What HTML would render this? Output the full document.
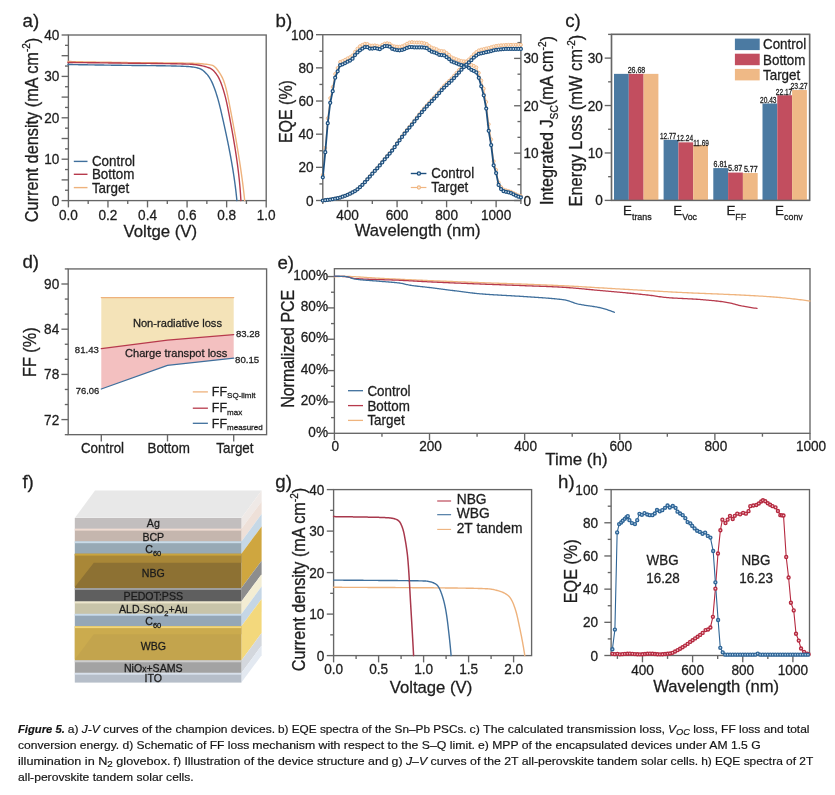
<!DOCTYPE html>
<html><head><meta charset="utf-8"><title>Figure 5</title>
<style>
html,body{margin:0;padding:0;background:#fff;}
body{width:835px;height:795px;overflow:hidden;}
svg{display:block;font-family:'Liberation Sans', Arial, sans-serif;filter:blur(0.4px);}
.pt text{stroke:#1e1e1e;stroke-width:0.28px;}
</style></head><body>
<svg width="835" height="795" viewBox="0 0 835 795">
<rect width="835" height="795" fill="#fff"/>
<g class="pt"><polygon points="74.8,518 241.4,518 261.6,490.6 95.0,490.6" fill="#e8e8e8"/>
<line x1="74.8" y1="518" x2="241.4" y2="518" stroke="#f4f4f4" stroke-width="0.8"/>
<polygon points="241.4,518.0 261.6,490.6 261.6,501.4 241.4,528.8" fill="#efe9e6"/>
<rect x="74.8" y="518.0" width="166.60000000000002" height="10.80" fill="#c2bebe"/>
<polygon points="241.4,528.8 261.6,501.4 261.6,514.0 241.4,541.4" fill="#eee0d8"/>
<rect x="74.8" y="528.8" width="166.60000000000002" height="12.60" fill="#c5b6ae"/>
<rect x="74.8" y="528.8" width="166.60000000000002" height="1.8" fill="#f0dcd2"/>
<polygon points="241.4,541.4 261.6,514.0 261.6,526.4 241.4,553.8" fill="#c6d8e6"/>
<rect x="74.8" y="541.4" width="166.60000000000002" height="12.40" fill="#97a9b5"/>
<rect x="74.8" y="541.4" width="166.60000000000002" height="1.8" fill="#c9dbe9"/>
<polygon points="241.4,553.8 261.6,526.4 261.6,560.7 241.4,588.1" fill="#cfa63f"/>
<rect x="74.8" y="553.8" width="166.60000000000002" height="34.30" fill="#8d7133"/>
<polygon points="74.8,553.8 241.4,553.8 241.4,562.8 93.8,562.8 74.8,587.1" fill="#a98737"/>
<rect x="74.8" y="553.8" width="166.60000000000002" height="1.8" fill="#c9a53f"/>
<polygon points="241.4,588.1 261.6,560.7 261.6,574.2 241.4,601.6" fill="#8d8d8d"/>
<rect x="74.8" y="588.1" width="166.60000000000002" height="13.50" fill="#5f5f5f"/>
<rect x="74.8" y="588.1" width="166.60000000000002" height="1.8" fill="#a3a3a3"/>
<polygon points="241.4,601.6 261.6,574.2 261.6,586.5 241.4,613.9" fill="#f3edd3"/>
<rect x="74.8" y="601.6" width="166.60000000000002" height="12.30" fill="#c8c4a9"/>
<rect x="74.8" y="601.6" width="166.60000000000002" height="1.8" fill="#ede7cd"/>
<polygon points="241.4,613.9 261.6,586.5 261.6,598.9 241.4,626.3" fill="#c5d6e5"/>
<rect x="74.8" y="613.9" width="166.60000000000002" height="12.40" fill="#95a7b7"/>
<rect x="74.8" y="613.9" width="166.60000000000002" height="1.8" fill="#c9dbea"/>
<polygon points="241.4,626.3 261.6,598.9 261.6,633.1 241.4,660.5" fill="#f3d87c"/>
<rect x="74.8" y="626.3" width="166.60000000000002" height="34.20" fill="#c3a44d"/>
<polygon points="74.8,626.3 241.4,626.3 241.4,634.3 93.8,634.3 74.8,659.5" fill="#cbab4e"/>
<rect x="74.8" y="626.3" width="166.60000000000002" height="1.8" fill="#f2d77c"/>
<polygon points="241.4,660.5 261.6,633.1 261.6,645.5 241.4,672.9" fill="#d3d7dd"/>
<rect x="74.8" y="660.5" width="166.60000000000002" height="12.40" fill="#a3a3a3"/>
<rect x="74.8" y="660.5" width="166.60000000000002" height="1.8" fill="#cdcdcd"/>
<polygon points="241.4,672.9 261.6,645.5 261.6,655.2 241.4,682.6" fill="#e3e9f1"/>
<rect x="74.8" y="672.9" width="166.60000000000002" height="9.70" fill="#b6bec9"/>
<rect x="74.8" y="672.9" width="166.60000000000002" height="1.8" fill="#d8e0eb"/>
<text x="153.3" y="527.4" font-size="10.6" text-anchor="middle" fill="#1a1a1a">Ag</text>
<text x="153.3" y="540.9" font-size="10.6" text-anchor="middle" fill="#1a1a1a">BCP</text>
<text x="153.3" y="552.7" font-size="10.6" text-anchor="middle" fill="#1a1a1a">C<tspan dy="3" font-size="7.5">60</tspan></text>
<text x="153.3" y="577.3" font-size="10.6" text-anchor="middle" fill="#1a1a1a">NBG</text>
<text x="153.3" y="600.3" font-size="10.6" text-anchor="middle" fill="#1a1a1a">PEDOT:PSS</text>
<text x="153.3" y="612.9" font-size="10.6" text-anchor="middle" fill="#1a1a1a">ALD-SnO<tspan dy="3" font-size="7.5">2</tspan><tspan dy="-3">+Au</tspan></text>
<text x="153.3" y="625.3" font-size="10.6" text-anchor="middle" fill="#1a1a1a">C<tspan dy="3" font-size="7.5">60</tspan></text>
<text x="153.3" y="649.5" font-size="10.6" text-anchor="middle" fill="#1a1a1a">WBG</text>
<text x="153.3" y="672.3" font-size="10.6" text-anchor="middle" fill="#1a1a1a">NiO<tspan font-size="8.5">x</tspan>+SAMS</text>
<text x="153.3" y="682.0" font-size="10.6" text-anchor="middle" fill="#1a1a1a">ITO</text></g>
<g class="pt"><text x="22.5" y="27.4" font-size="18.7" fill="#1e1e1e">a)</text>
<rect x="68.4" y="35" width="197.8" height="165.6" fill="none" stroke="#666666" stroke-width="1.35"/>
<line x1="68.4" y1="200.6" x2="61.6" y2="200.6" stroke="#666666" stroke-width="1.35"/>
<line x1="68.4" y1="179.9" x2="61.6" y2="179.9" stroke="#666666" stroke-width="1.35"/>
<line x1="68.4" y1="159.2" x2="61.6" y2="159.2" stroke="#666666" stroke-width="1.35"/>
<line x1="68.4" y1="138.5" x2="61.6" y2="138.5" stroke="#666666" stroke-width="1.35"/>
<line x1="68.4" y1="117.8" x2="61.6" y2="117.8" stroke="#666666" stroke-width="1.35"/>
<line x1="68.4" y1="97.1" x2="61.6" y2="97.1" stroke="#666666" stroke-width="1.35"/>
<line x1="68.4" y1="76.4" x2="61.6" y2="76.4" stroke="#666666" stroke-width="1.35"/>
<line x1="68.4" y1="55.7" x2="61.6" y2="55.7" stroke="#666666" stroke-width="1.35"/>
<line x1="68.4" y1="35" x2="61.6" y2="35" stroke="#666666" stroke-width="1.35"/>
<line x1="68.4" y1="190.25" x2="65" y2="190.25" stroke="#666666" stroke-width="1.35"/>
<line x1="68.4" y1="169.55" x2="65" y2="169.55" stroke="#666666" stroke-width="1.35"/>
<line x1="68.4" y1="148.85" x2="65" y2="148.85" stroke="#666666" stroke-width="1.35"/>
<line x1="68.4" y1="128.15" x2="65" y2="128.15" stroke="#666666" stroke-width="1.35"/>
<line x1="68.4" y1="107.45" x2="65" y2="107.45" stroke="#666666" stroke-width="1.35"/>
<line x1="68.4" y1="86.75" x2="65" y2="86.75" stroke="#666666" stroke-width="1.35"/>
<line x1="68.4" y1="66.05" x2="65" y2="66.05" stroke="#666666" stroke-width="1.35"/>
<line x1="68.4" y1="45.35" x2="65" y2="45.35" stroke="#666666" stroke-width="1.35"/>
<line x1="68.4" y1="200.6" x2="68.4" y2="207.4" stroke="#666666" stroke-width="1.35"/>
<line x1="107.96" y1="200.6" x2="107.96" y2="207.4" stroke="#666666" stroke-width="1.35"/>
<line x1="147.52" y1="200.6" x2="147.52" y2="207.4" stroke="#666666" stroke-width="1.35"/>
<line x1="187.08" y1="200.6" x2="187.08" y2="207.4" stroke="#666666" stroke-width="1.35"/>
<line x1="226.64" y1="200.6" x2="226.64" y2="207.4" stroke="#666666" stroke-width="1.35"/>
<line x1="266.2" y1="200.6" x2="266.2" y2="207.4" stroke="#666666" stroke-width="1.35"/>
<line x1="88.18" y1="200.6" x2="88.18" y2="204" stroke="#666666" stroke-width="1.35"/>
<line x1="127.74" y1="200.6" x2="127.74" y2="204" stroke="#666666" stroke-width="1.35"/>
<line x1="167.3" y1="200.6" x2="167.3" y2="204" stroke="#666666" stroke-width="1.35"/>
<line x1="206.86" y1="200.6" x2="206.86" y2="204" stroke="#666666" stroke-width="1.35"/>
<line x1="246.42" y1="200.6" x2="246.42" y2="204" stroke="#666666" stroke-width="1.35"/>
<text x="0" y="0" font-size="13.6" text-anchor="end" transform="translate(59.3 205.6) scale(1 1.06)" fill="#1e1e1e">0</text>
<text x="0" y="0" font-size="13.6" text-anchor="end" transform="translate(59.3 164.2) scale(1 1.06)" fill="#1e1e1e">10</text>
<text x="0" y="0" font-size="13.6" text-anchor="end" transform="translate(59.3 122.8) scale(1 1.06)" fill="#1e1e1e">20</text>
<text x="0" y="0" font-size="13.6" text-anchor="end" transform="translate(59.3 81.4) scale(1 1.06)" fill="#1e1e1e">30</text>
<text x="0" y="0" font-size="13.6" text-anchor="end" transform="translate(59.3 40) scale(1 1.06)" fill="#1e1e1e">40</text>
<text x="0" y="0" font-size="13.6" text-anchor="middle" transform="translate(68.4 220.3) scale(1 1.06)" fill="#1e1e1e">0.0</text>
<text x="0" y="0" font-size="13.6" text-anchor="middle" transform="translate(107.96 220.3) scale(1 1.06)" fill="#1e1e1e">0.2</text>
<text x="0" y="0" font-size="13.6" text-anchor="middle" transform="translate(147.52 220.3) scale(1 1.06)" fill="#1e1e1e">0.4</text>
<text x="0" y="0" font-size="13.6" text-anchor="middle" transform="translate(187.08 220.3) scale(1 1.06)" fill="#1e1e1e">0.6</text>
<text x="0" y="0" font-size="13.6" text-anchor="middle" transform="translate(226.64 220.3) scale(1 1.06)" fill="#1e1e1e">0.8</text>
<text x="0" y="0" font-size="13.6" text-anchor="middle" transform="translate(266.2 220.3) scale(1 1.06)" fill="#1e1e1e">1.0</text>
<text x="160.3" y="236.7" font-size="16.8" text-anchor="middle" fill="#1e1e1e">Voltge (V)</text>
<text x="0" y="0" font-size="16.3" text-anchor="middle" transform="translate(37.6 130) rotate(-90) scale(1 1.1)" fill="#1e1e1e">Current density (mA cm<tspan dy="-6.5" font-size="10">-2</tspan><tspan dy="6.5">)</tspan></text>
<polyline points="68,61.5 69.43,61.53 70.87,61.56 72.3,61.59 73.74,61.62 75.17,61.65 76.61,61.68 78.04,61.71 79.48,61.74 80.91,61.77 82.34,61.8 83.78,61.83 85.21,61.86 86.65,61.89 88.08,61.91 89.52,61.94 90.95,61.97 92.39,62 93.82,62.02 95.25,62.05 96.69,62.08 98.12,62.1 99.56,62.13 100.99,62.15 102.43,62.18 103.86,62.2 105.3,62.23 106.73,62.25 108.16,62.28 109.6,62.3 111.03,62.32 112.47,62.35 113.9,62.37 115.34,62.39 116.77,62.41 118.21,62.44 119.64,62.46 121.08,62.48 122.51,62.5 123.94,62.52 125.38,62.54 126.81,62.56 128.25,62.58 129.68,62.6 131.12,62.61 132.55,62.63 133.99,62.65 135.42,62.66 136.86,62.68 138.29,62.69 139.73,62.7 141.16,62.71 142.6,62.73 144.03,62.74 145.47,62.75 146.91,62.76 148.34,62.77 149.78,62.78 151.21,62.79 152.65,62.79 154.09,62.8 155.52,62.81 156.96,62.82 158.39,62.83 159.83,62.84 161.26,62.85 162.7,62.86 164.13,62.87 165.57,62.88 167,62.89 168.44,62.9 169.87,62.92 171.31,62.93 172.74,62.94 174.18,62.96 175.61,62.98 177.04,62.99 178.48,63.01 179.91,63.03 181.35,63.05 182.78,63.07 184.21,63.09 185.64,63.12 187.07,63.14 188.51,63.17 189.94,63.2 191.38,63.23 192.86,63.28 194.35,63.33 195.86,63.4 197.37,63.48 198.89,63.57 200.4,63.68 201.89,63.8 203.37,63.93 204.82,64.09 206.25,64.25 207.63,64.43 208.97,64.64 210.25,64.85 211.48,65.09 212.65,65.4 213.79,66.03 214.9,66.93 215.97,68.02 216.98,69.24 217.93,70.5 218.8,71.73 219.6,72.88 220.36,74.07 221.09,75.32 221.78,76.6 222.43,77.91 223.03,79.24 223.58,80.59 224.07,81.93 224.52,83.26 224.94,84.61 225.34,85.96 225.72,87.33 226.09,88.71 226.44,90.1 226.78,91.5 227.1,92.9 227.42,94.31 227.72,95.72 228.01,97.14 228.3,98.56 228.57,99.98 228.85,101.4 229.12,102.82 229.39,104.24 229.66,105.66 229.93,107.07 230.2,108.48 230.47,109.88 230.74,111.29 231.01,112.7 231.28,114.1 231.55,115.51 231.81,116.92 232.08,118.33 232.35,119.74 232.61,121.14 232.88,122.55 233.14,123.96 233.4,125.37 233.66,126.78 233.92,128.19 234.18,129.6 234.43,131.01 234.69,132.42 234.94,133.83 235.2,135.24 235.45,136.65 235.7,138.07 235.95,139.48 236.19,140.89 236.44,142.3 236.68,143.72 236.93,145.13 237.17,146.55 237.4,147.96 237.64,149.38 237.88,150.79 238.11,152.21 238.34,153.62 238.57,155.04 238.8,156.46 239.03,157.87 239.25,159.29 239.47,160.71 239.69,162.13 239.91,163.55 240.12,164.96 240.34,166.38 240.55,167.8 240.76,169.23 240.96,170.65 241.17,172.07 241.37,173.49 241.57,174.91 241.77,176.34 241.96,177.76 242.15,179.18 242.34,180.61 242.53,182.03 242.71,183.46 242.89,184.88 243.07,186.31 243.25,187.74 243.42,189.16 243.59,190.59 243.76,192.02 243.92,193.45 244.08,194.88 244.24,196.31 244.4,197.74 244.55,199.17 244.7,200.6" fill="none" stroke="#eeb27c" stroke-width="1.4" stroke-linejoin="round" stroke-linecap="round"/>
<polyline points="68,62.5 69.41,62.51 70.82,62.52 72.23,62.54 73.64,62.55 75.05,62.56 76.46,62.58 77.87,62.59 79.28,62.6 80.69,62.62 82.1,62.63 83.51,62.64 84.92,62.66 86.33,62.67 87.74,62.69 89.15,62.7 90.55,62.72 91.96,62.73 93.37,62.75 94.78,62.76 96.19,62.78 97.6,62.8 99.01,62.81 100.42,62.83 101.83,62.84 103.24,62.86 104.65,62.88 106.06,62.89 107.47,62.91 108.88,62.93 110.29,62.95 111.7,62.96 113.11,62.98 114.52,63 115.93,63.02 117.34,63.03 118.75,63.05 120.16,63.07 121.57,63.09 122.98,63.11 124.39,63.13 125.8,63.14 127.2,63.16 128.61,63.18 130.02,63.2 131.43,63.22 132.84,63.24 134.26,63.25 135.67,63.27 137.08,63.29 138.49,63.3 139.91,63.32 141.32,63.33 142.73,63.35 144.15,63.36 145.56,63.38 146.98,63.39 148.39,63.4 149.81,63.42 151.22,63.43 152.64,63.45 154.05,63.46 155.47,63.48 156.88,63.49 158.29,63.51 159.71,63.53 161.12,63.55 162.53,63.57 163.95,63.59 165.36,63.61 166.77,63.63 168.18,63.65 169.59,63.67 171,63.7 172.41,63.73 173.82,63.75 175.22,63.78 176.63,63.81 178.04,63.85 179.44,63.88 180.84,63.92 182.24,63.95 183.64,63.99 185.04,64.04 186.44,64.08 187.84,64.12 189.23,64.17 190.63,64.23 192.05,64.31 193.49,64.43 194.94,64.59 196.4,64.77 197.86,64.99 199.32,65.24 200.76,65.52 202.19,65.83 203.59,66.16 204.96,66.52 206.29,66.9 207.57,67.31 208.8,67.74 209.98,68.19 211.12,68.77 212.24,69.56 213.32,70.52 214.36,71.6 215.34,72.75 216.24,73.93 217.06,75.09 217.79,76.22 218.48,77.42 219.12,78.67 219.74,79.95 220.31,81.27 220.86,82.61 221.37,83.95 221.85,85.29 222.31,86.61 222.75,87.94 223.17,89.27 223.58,90.62 223.98,91.97 224.37,93.33 224.74,94.69 225.11,96.06 225.46,97.43 225.8,98.81 226.13,100.19 226.45,101.57 226.75,102.95 227.05,104.33 227.34,105.71 227.62,107.09 227.89,108.47 228.16,109.85 228.43,111.23 228.69,112.61 228.96,113.98 229.22,115.36 229.49,116.74 229.75,118.12 230.01,119.5 230.27,120.88 230.53,122.27 230.79,123.65 231.04,125.03 231.3,126.41 231.55,127.8 231.8,129.18 232.06,130.56 232.3,131.95 232.55,133.33 232.8,134.72 233.04,136.11 233.28,137.49 233.52,138.88 233.76,140.27 233.99,141.66 234.22,143.05 234.45,144.44 234.68,145.83 234.91,147.22 235.13,148.61 235.35,150 235.57,151.39 235.78,152.79 235.99,154.18 236.2,155.58 236.41,156.97 236.61,158.37 236.81,159.76 237.01,161.16 237.2,162.56 237.39,163.96 237.58,165.36 237.76,166.76 237.94,168.16 238.11,169.56 238.29,170.96 238.45,172.37 238.62,173.77 238.78,175.18 238.93,176.58 239.09,177.99 239.23,179.39 239.38,180.8 239.52,182.21 239.65,183.62 239.78,185.03 239.91,186.44 240.03,187.85 240.14,189.27 240.26,190.68 240.36,192.09 240.47,193.51 240.56,194.93 240.65,196.34 240.74,197.76 240.82,199.18 240.9,200.6" fill="none" stroke="#b73a4c" stroke-width="1.4" stroke-linejoin="round" stroke-linecap="round"/>
<polyline points="68,64.5 69.37,64.52 70.73,64.55 72.1,64.57 73.46,64.59 74.83,64.62 76.19,64.64 77.56,64.66 78.92,64.68 80.29,64.71 81.65,64.73 83.02,64.75 84.38,64.77 85.75,64.79 87.11,64.82 88.48,64.84 89.85,64.86 91.21,64.88 92.58,64.9 93.94,64.92 95.31,64.94 96.67,64.96 98.04,64.99 99.4,65.01 100.77,65.03 102.13,65.05 103.5,65.07 104.86,65.09 106.23,65.11 107.59,65.13 108.96,65.15 110.33,65.17 111.69,65.19 113.06,65.2 114.42,65.22 115.79,65.24 117.15,65.26 118.52,65.28 119.88,65.3 121.25,65.32 122.61,65.33 123.98,65.35 125.34,65.37 126.71,65.38 128.08,65.4 129.44,65.41 130.81,65.42 132.17,65.44 133.54,65.45 134.9,65.46 136.27,65.48 137.63,65.49 139,65.5 140.37,65.52 141.73,65.53 143.1,65.54 144.46,65.55 145.83,65.57 147.19,65.58 148.56,65.59 149.92,65.61 151.29,65.62 152.66,65.64 154.02,65.65 155.39,65.67 156.75,65.69 158.12,65.71 159.48,65.72 160.85,65.74 162.21,65.76 163.58,65.78 164.94,65.81 166.31,65.83 167.67,65.86 169.04,65.88 170.4,65.91 171.77,65.94 173.14,65.97 174.5,66 175.87,66.04 177.24,66.08 178.61,66.12 179.98,66.17 181.35,66.22 182.71,66.28 184.08,66.34 185.44,66.41 186.8,66.49 188.16,66.57 189.51,66.67 190.87,66.77 192.25,66.93 193.64,67.13 195.02,67.38 196.38,67.67 197.71,68 198.99,68.37 200.2,68.77 201.37,69.33 202.52,70.06 203.63,70.93 204.69,71.89 205.7,72.9 206.64,73.91 207.52,74.91 208.35,75.98 209.14,77.12 209.88,78.29 210.56,79.49 211.2,80.69 211.8,81.9 212.38,83.14 212.92,84.39 213.45,85.66 213.95,86.94 214.43,88.23 214.89,89.52 215.34,90.8 215.77,92.09 216.2,93.39 216.61,94.69 217.02,95.99 217.41,97.3 217.8,98.61 218.18,99.93 218.54,101.25 218.9,102.57 219.25,103.9 219.59,105.22 219.91,106.55 220.23,107.87 220.55,109.2 220.85,110.52 221.16,111.85 221.46,113.17 221.77,114.5 222.07,115.83 222.38,117.15 222.68,118.48 222.98,119.81 223.28,121.14 223.58,122.47 223.87,123.8 224.17,125.13 224.46,126.46 224.76,127.79 225.05,129.12 225.34,130.45 225.63,131.78 225.91,133.12 226.2,134.45 226.48,135.78 226.76,137.12 227.04,138.45 227.32,139.79 227.6,141.13 227.87,142.46 228.14,143.8 228.41,145.14 228.68,146.48 228.94,147.82 229.2,149.15 229.46,150.5 229.72,151.84 229.98,153.18 230.23,154.52 230.48,155.86 230.73,157.21 230.97,158.55 231.21,159.9 231.45,161.24 231.69,162.59 231.92,163.93 232.15,165.28 232.38,166.63 232.6,167.98 232.83,169.33 233.04,170.68 233.26,172.03 233.47,173.38 233.68,174.74 233.88,176.09 234.08,177.44 234.28,178.8 234.47,180.16 234.66,181.51 234.85,182.87 235.03,184.23 235.21,185.59 235.38,186.95 235.55,188.31 235.72,189.67 235.88,191.03 236.04,192.4 236.19,193.76 236.34,195.13 236.49,196.5 236.63,197.86 236.77,199.23 236.9,200.6" fill="none" stroke="#3f6f9c" stroke-width="1.4" stroke-linejoin="round" stroke-linecap="round"/>
<line x1="73.8" y1="161.4" x2="87.5" y2="161.4" stroke="#3f6f9c" stroke-width="1.4"/>
<text x="0" y="0" font-size="13.4" transform="translate(91.9 166.3) scale(1 1.06)" fill="#1e1e1e">Control</text>
<line x1="73.8" y1="174.3" x2="87.5" y2="174.3" stroke="#b73a4c" stroke-width="1.4"/>
<text x="0" y="0" font-size="13.4" transform="translate(91.9 179.2) scale(1 1.06)" fill="#1e1e1e">Bottom</text>
<line x1="73.8" y1="187.6" x2="87.5" y2="187.6" stroke="#eeb27c" stroke-width="1.4"/>
<text x="0" y="0" font-size="13.4" transform="translate(91.9 192.5) scale(1 1.06)" fill="#1e1e1e">Target</text>
<text x="275.5" y="27" font-size="18.7" fill="#1e1e1e">b)</text>
<rect x="322.8" y="34.7" width="198.08" height="165.8" fill="none" stroke="#666666" stroke-width="1.35"/>
<line x1="322.8" y1="200.5" x2="316" y2="200.5" stroke="#666666" stroke-width="1.35"/>
<line x1="322.8" y1="167.34" x2="316" y2="167.34" stroke="#666666" stroke-width="1.35"/>
<line x1="322.8" y1="134.18" x2="316" y2="134.18" stroke="#666666" stroke-width="1.35"/>
<line x1="322.8" y1="101.02" x2="316" y2="101.02" stroke="#666666" stroke-width="1.35"/>
<line x1="322.8" y1="67.86" x2="316" y2="67.86" stroke="#666666" stroke-width="1.35"/>
<line x1="322.8" y1="34.7" x2="316" y2="34.7" stroke="#666666" stroke-width="1.35"/>
<line x1="322.8" y1="183.92" x2="319.4" y2="183.92" stroke="#666666" stroke-width="1.35"/>
<line x1="322.8" y1="150.76" x2="319.4" y2="150.76" stroke="#666666" stroke-width="1.35"/>
<line x1="322.8" y1="117.6" x2="319.4" y2="117.6" stroke="#666666" stroke-width="1.35"/>
<line x1="322.8" y1="84.44" x2="319.4" y2="84.44" stroke="#666666" stroke-width="1.35"/>
<line x1="322.8" y1="51.28" x2="319.4" y2="51.28" stroke="#666666" stroke-width="1.35"/>
<line x1="347.56" y1="200.5" x2="347.56" y2="207.3" stroke="#666666" stroke-width="1.35"/>
<line x1="397.08" y1="200.5" x2="397.08" y2="207.3" stroke="#666666" stroke-width="1.35"/>
<line x1="446.6" y1="200.5" x2="446.6" y2="207.3" stroke="#666666" stroke-width="1.35"/>
<line x1="496.12" y1="200.5" x2="496.12" y2="207.3" stroke="#666666" stroke-width="1.35"/>
<line x1="322.8" y1="200.5" x2="322.8" y2="203.9" stroke="#666666" stroke-width="1.35"/>
<line x1="372.32" y1="200.5" x2="372.32" y2="203.9" stroke="#666666" stroke-width="1.35"/>
<line x1="421.84" y1="200.5" x2="421.84" y2="203.9" stroke="#666666" stroke-width="1.35"/>
<line x1="471.36" y1="200.5" x2="471.36" y2="203.9" stroke="#666666" stroke-width="1.35"/>
<line x1="520.88" y1="200.5" x2="520.88" y2="203.9" stroke="#666666" stroke-width="1.35"/>
<line x1="520.88" y1="200.5" x2="514.08" y2="200.5" stroke="#666666" stroke-width="1.35"/>
<line x1="520.88" y1="153.13" x2="514.08" y2="153.13" stroke="#666666" stroke-width="1.35"/>
<line x1="520.88" y1="105.76" x2="514.08" y2="105.76" stroke="#666666" stroke-width="1.35"/>
<line x1="520.88" y1="58.39" x2="514.08" y2="58.39" stroke="#666666" stroke-width="1.35"/>
<line x1="520.88" y1="184.71" x2="517.48" y2="184.71" stroke="#666666" stroke-width="1.35"/>
<line x1="520.88" y1="168.92" x2="517.48" y2="168.92" stroke="#666666" stroke-width="1.35"/>
<line x1="520.88" y1="137.34" x2="517.48" y2="137.34" stroke="#666666" stroke-width="1.35"/>
<line x1="520.88" y1="121.55" x2="517.48" y2="121.55" stroke="#666666" stroke-width="1.35"/>
<line x1="520.88" y1="89.97" x2="517.48" y2="89.97" stroke="#666666" stroke-width="1.35"/>
<line x1="520.88" y1="74.18" x2="517.48" y2="74.18" stroke="#666666" stroke-width="1.35"/>
<line x1="520.88" y1="42.6" x2="517.48" y2="42.6" stroke="#666666" stroke-width="1.35"/>
<text x="0" y="0" font-size="13.6" text-anchor="end" transform="translate(313.6 205.5) scale(1 1.06)" fill="#1e1e1e">0</text>
<text x="0" y="0" font-size="13.6" text-anchor="end" transform="translate(313.6 172.34) scale(1 1.06)" fill="#1e1e1e">20</text>
<text x="0" y="0" font-size="13.6" text-anchor="end" transform="translate(313.6 139.18) scale(1 1.06)" fill="#1e1e1e">40</text>
<text x="0" y="0" font-size="13.6" text-anchor="end" transform="translate(313.6 106.02) scale(1 1.06)" fill="#1e1e1e">60</text>
<text x="0" y="0" font-size="13.6" text-anchor="end" transform="translate(313.6 72.86) scale(1 1.06)" fill="#1e1e1e">80</text>
<text x="0" y="0" font-size="13.6" text-anchor="end" transform="translate(313.6 39.7) scale(1 1.06)" fill="#1e1e1e">100</text>
<text x="0" y="0" font-size="13.6" transform="translate(523.5 205.5) scale(1 1.06)" fill="#1e1e1e">0</text>
<text x="0" y="0" font-size="13.6" transform="translate(523.5 158.13) scale(1 1.06)" fill="#1e1e1e">10</text>
<text x="0" y="0" font-size="13.6" transform="translate(523.5 110.76) scale(1 1.06)" fill="#1e1e1e">20</text>
<text x="0" y="0" font-size="13.6" transform="translate(523.5 63.39) scale(1 1.06)" fill="#1e1e1e">30</text>
<text x="0" y="0" font-size="13.6" text-anchor="middle" transform="translate(347.56 220.4) scale(1 1.06)" fill="#1e1e1e">400</text>
<text x="0" y="0" font-size="13.6" text-anchor="middle" transform="translate(397.08 220.4) scale(1 1.06)" fill="#1e1e1e">600</text>
<text x="0" y="0" font-size="13.6" text-anchor="middle" transform="translate(446.6 220.4) scale(1 1.06)" fill="#1e1e1e">800</text>
<text x="0" y="0" font-size="13.6" text-anchor="middle" transform="translate(496.12 220.4) scale(1 1.06)" fill="#1e1e1e">1000</text>
<text x="417.7" y="235.8" font-size="16.6" text-anchor="middle" fill="#1e1e1e">Wavelength (nm)</text>
<text x="0" y="0" font-size="16" text-anchor="middle" transform="translate(292.3 111.6) rotate(-90) scale(1 1.1)" fill="#1e1e1e">EQE (%)</text>
<text x="0" y="0" font-size="16.2" text-anchor="middle" transform="translate(553.3 120.5) rotate(-90) scale(1 1.1)" fill="#1e1e1e">Integrated J<tspan dy="4.3" font-size="10.2">SC</tspan><tspan dy="-4.3">(mA cm</tspan><tspan dy="-6.5" font-size="10">-2</tspan><tspan dy="6.5">)</tspan></text>
<polyline points="322.8,174.8 325.28,147.99 327.75,118.27 330.23,98.11 332.7,86.98 335.18,74.03 337.66,67.99 340.13,61.91 342.61,61.02 345.08,59.78 347.56,58.38 350.04,57.24 352.51,55.42 354.99,51.7 357.46,48.65 359.94,46.2 362.42,44.84 364.89,43.78 367.37,43.98 369.84,45.48 372.32,45.6 374.8,45.37 377.27,45.83 379.75,46.66 382.22,44.89 384.7,43.64 387.18,43.2 389.65,43.72 392.13,45.66 394.6,46.4 397.08,46.69 399.56,46.78 402.03,46.29 404.51,45.23 406.98,43.74 409.46,42.52 411.94,42.08 414.41,42.49 416.89,42.49 419.36,42.49 421.84,42.71 424.32,43.17 426.79,44.02 429.27,45.93 431.74,47.56 434.22,48.33 436.7,49.22 439.17,50.63 441.65,50.95 444.12,51.27 446.6,53 449.08,54.9 451.55,57.25 454.03,58.33 456.5,59.21 458.98,60.26 461.46,60.91 463.93,61.27 466.41,61.25 468.88,62.88 471.36,64.87 473.84,65.93 476.31,67.4 478.79,72.83 481.26,80.47 483.74,88.65 486.22,101.95 488.69,124.23 491.17,139.41 493.64,161.18 496.12,169.83 498.6,182.43 501.07,187.06 503.55,189.55 506.02,190.37 508.5,191.01 510.98,191.74 513.45,193 515.93,194.28 518.4,195.4 520.88,196.02" fill="none" stroke="#f0b682" stroke-width="0.9" stroke-linejoin="round" stroke-linecap="round"/>
<polyline points="322.8,200.5 325.28,200.23 327.75,199.91 330.23,199.55 332.7,199.16 335.18,198.71 337.66,198.18 340.13,197.52 342.61,196.71 345.08,195.79 347.56,194.78 350.04,193.67 352.51,192.41 354.99,190.95 357.46,189.21 359.94,187.09 362.42,184.71 364.89,181.97 367.37,179.07 369.84,176.26 372.32,173.47 374.8,170.68 377.27,167.93 379.75,165.08 382.22,161.98 384.7,158.85 387.18,155.95 389.65,153.12 392.13,150.06 394.6,146.64 397.08,143.11 399.56,139.68 402.03,136.27 404.51,132.96 406.98,129.81 409.46,126.74 411.94,123.67 414.41,120.52 416.89,117.35 419.36,114.22 421.84,111.16 424.32,108.15 426.79,105.25 429.27,102.51 431.74,99.86 434.22,97.2 436.7,94.43 439.17,91.48 441.65,88.5 444.12,85.69 446.6,83.21 449.08,80.9 451.55,78.47 454.03,75.73 456.5,72.85 458.98,69.97 461.46,67.05 463.93,64.29 466.41,61.77 468.88,59.41 471.36,57 473.84,54.24 476.31,52.06 478.79,50.4 481.26,49.61 483.74,49.06 486.22,48.48 488.69,47.91 491.17,47.19 493.64,46.48 496.12,45.93 498.6,45.56 501.07,45.27 503.55,45.09 506.02,44.95 508.5,44.87 510.98,44.85 513.45,44.84 515.93,44.83 518.4,44.83 520.88,44.82" fill="none" stroke="#f0b682" stroke-width="0.9" stroke-linejoin="round" stroke-linecap="round"/>
<circle cx="322.8" cy="174.8" r="1.5" fill="#fcebd9" stroke="#f0b682" stroke-width="0.9"/>
<circle cx="325.28" cy="147.99" r="1.5" fill="#fcebd9" stroke="#f0b682" stroke-width="0.9"/>
<circle cx="327.75" cy="118.27" r="1.5" fill="#fcebd9" stroke="#f0b682" stroke-width="0.9"/>
<circle cx="330.23" cy="98.11" r="1.5" fill="#fcebd9" stroke="#f0b682" stroke-width="0.9"/>
<circle cx="332.7" cy="86.98" r="1.5" fill="#fcebd9" stroke="#f0b682" stroke-width="0.9"/>
<circle cx="335.18" cy="74.03" r="1.5" fill="#fcebd9" stroke="#f0b682" stroke-width="0.9"/>
<circle cx="337.66" cy="67.99" r="1.5" fill="#fcebd9" stroke="#f0b682" stroke-width="0.9"/>
<circle cx="340.13" cy="61.91" r="1.5" fill="#fcebd9" stroke="#f0b682" stroke-width="0.9"/>
<circle cx="342.61" cy="61.02" r="1.5" fill="#fcebd9" stroke="#f0b682" stroke-width="0.9"/>
<circle cx="345.08" cy="59.78" r="1.5" fill="#fcebd9" stroke="#f0b682" stroke-width="0.9"/>
<circle cx="347.56" cy="58.38" r="1.5" fill="#fcebd9" stroke="#f0b682" stroke-width="0.9"/>
<circle cx="350.04" cy="57.24" r="1.5" fill="#fcebd9" stroke="#f0b682" stroke-width="0.9"/>
<circle cx="352.51" cy="55.42" r="1.5" fill="#fcebd9" stroke="#f0b682" stroke-width="0.9"/>
<circle cx="354.99" cy="51.7" r="1.5" fill="#fcebd9" stroke="#f0b682" stroke-width="0.9"/>
<circle cx="357.46" cy="48.65" r="1.5" fill="#fcebd9" stroke="#f0b682" stroke-width="0.9"/>
<circle cx="359.94" cy="46.2" r="1.5" fill="#fcebd9" stroke="#f0b682" stroke-width="0.9"/>
<circle cx="362.42" cy="44.84" r="1.5" fill="#fcebd9" stroke="#f0b682" stroke-width="0.9"/>
<circle cx="364.89" cy="43.78" r="1.5" fill="#fcebd9" stroke="#f0b682" stroke-width="0.9"/>
<circle cx="367.37" cy="43.98" r="1.5" fill="#fcebd9" stroke="#f0b682" stroke-width="0.9"/>
<circle cx="369.84" cy="45.48" r="1.5" fill="#fcebd9" stroke="#f0b682" stroke-width="0.9"/>
<circle cx="372.32" cy="45.6" r="1.5" fill="#fcebd9" stroke="#f0b682" stroke-width="0.9"/>
<circle cx="374.8" cy="45.37" r="1.5" fill="#fcebd9" stroke="#f0b682" stroke-width="0.9"/>
<circle cx="377.27" cy="45.83" r="1.5" fill="#fcebd9" stroke="#f0b682" stroke-width="0.9"/>
<circle cx="379.75" cy="46.66" r="1.5" fill="#fcebd9" stroke="#f0b682" stroke-width="0.9"/>
<circle cx="382.22" cy="44.89" r="1.5" fill="#fcebd9" stroke="#f0b682" stroke-width="0.9"/>
<circle cx="384.7" cy="43.64" r="1.5" fill="#fcebd9" stroke="#f0b682" stroke-width="0.9"/>
<circle cx="387.18" cy="43.2" r="1.5" fill="#fcebd9" stroke="#f0b682" stroke-width="0.9"/>
<circle cx="389.65" cy="43.72" r="1.5" fill="#fcebd9" stroke="#f0b682" stroke-width="0.9"/>
<circle cx="392.13" cy="45.66" r="1.5" fill="#fcebd9" stroke="#f0b682" stroke-width="0.9"/>
<circle cx="394.6" cy="46.4" r="1.5" fill="#fcebd9" stroke="#f0b682" stroke-width="0.9"/>
<circle cx="397.08" cy="46.69" r="1.5" fill="#fcebd9" stroke="#f0b682" stroke-width="0.9"/>
<circle cx="399.56" cy="46.78" r="1.5" fill="#fcebd9" stroke="#f0b682" stroke-width="0.9"/>
<circle cx="402.03" cy="46.29" r="1.5" fill="#fcebd9" stroke="#f0b682" stroke-width="0.9"/>
<circle cx="404.51" cy="45.23" r="1.5" fill="#fcebd9" stroke="#f0b682" stroke-width="0.9"/>
<circle cx="406.98" cy="43.74" r="1.5" fill="#fcebd9" stroke="#f0b682" stroke-width="0.9"/>
<circle cx="409.46" cy="42.52" r="1.5" fill="#fcebd9" stroke="#f0b682" stroke-width="0.9"/>
<circle cx="411.94" cy="42.08" r="1.5" fill="#fcebd9" stroke="#f0b682" stroke-width="0.9"/>
<circle cx="414.41" cy="42.49" r="1.5" fill="#fcebd9" stroke="#f0b682" stroke-width="0.9"/>
<circle cx="416.89" cy="42.49" r="1.5" fill="#fcebd9" stroke="#f0b682" stroke-width="0.9"/>
<circle cx="419.36" cy="42.49" r="1.5" fill="#fcebd9" stroke="#f0b682" stroke-width="0.9"/>
<circle cx="421.84" cy="42.71" r="1.5" fill="#fcebd9" stroke="#f0b682" stroke-width="0.9"/>
<circle cx="424.32" cy="43.17" r="1.5" fill="#fcebd9" stroke="#f0b682" stroke-width="0.9"/>
<circle cx="426.79" cy="44.02" r="1.5" fill="#fcebd9" stroke="#f0b682" stroke-width="0.9"/>
<circle cx="429.27" cy="45.93" r="1.5" fill="#fcebd9" stroke="#f0b682" stroke-width="0.9"/>
<circle cx="431.74" cy="47.56" r="1.5" fill="#fcebd9" stroke="#f0b682" stroke-width="0.9"/>
<circle cx="434.22" cy="48.33" r="1.5" fill="#fcebd9" stroke="#f0b682" stroke-width="0.9"/>
<circle cx="436.7" cy="49.22" r="1.5" fill="#fcebd9" stroke="#f0b682" stroke-width="0.9"/>
<circle cx="439.17" cy="50.63" r="1.5" fill="#fcebd9" stroke="#f0b682" stroke-width="0.9"/>
<circle cx="441.65" cy="50.95" r="1.5" fill="#fcebd9" stroke="#f0b682" stroke-width="0.9"/>
<circle cx="444.12" cy="51.27" r="1.5" fill="#fcebd9" stroke="#f0b682" stroke-width="0.9"/>
<circle cx="446.6" cy="53" r="1.5" fill="#fcebd9" stroke="#f0b682" stroke-width="0.9"/>
<circle cx="449.08" cy="54.9" r="1.5" fill="#fcebd9" stroke="#f0b682" stroke-width="0.9"/>
<circle cx="451.55" cy="57.25" r="1.5" fill="#fcebd9" stroke="#f0b682" stroke-width="0.9"/>
<circle cx="454.03" cy="58.33" r="1.5" fill="#fcebd9" stroke="#f0b682" stroke-width="0.9"/>
<circle cx="456.5" cy="59.21" r="1.5" fill="#fcebd9" stroke="#f0b682" stroke-width="0.9"/>
<circle cx="458.98" cy="60.26" r="1.5" fill="#fcebd9" stroke="#f0b682" stroke-width="0.9"/>
<circle cx="461.46" cy="60.91" r="1.5" fill="#fcebd9" stroke="#f0b682" stroke-width="0.9"/>
<circle cx="463.93" cy="61.27" r="1.5" fill="#fcebd9" stroke="#f0b682" stroke-width="0.9"/>
<circle cx="466.41" cy="61.25" r="1.5" fill="#fcebd9" stroke="#f0b682" stroke-width="0.9"/>
<circle cx="468.88" cy="62.88" r="1.5" fill="#fcebd9" stroke="#f0b682" stroke-width="0.9"/>
<circle cx="471.36" cy="64.87" r="1.5" fill="#fcebd9" stroke="#f0b682" stroke-width="0.9"/>
<circle cx="473.84" cy="65.93" r="1.5" fill="#fcebd9" stroke="#f0b682" stroke-width="0.9"/>
<circle cx="476.31" cy="67.4" r="1.5" fill="#fcebd9" stroke="#f0b682" stroke-width="0.9"/>
<circle cx="478.79" cy="72.83" r="1.5" fill="#fcebd9" stroke="#f0b682" stroke-width="0.9"/>
<circle cx="481.26" cy="80.47" r="1.5" fill="#fcebd9" stroke="#f0b682" stroke-width="0.9"/>
<circle cx="483.74" cy="88.65" r="1.5" fill="#fcebd9" stroke="#f0b682" stroke-width="0.9"/>
<circle cx="486.22" cy="101.95" r="1.5" fill="#fcebd9" stroke="#f0b682" stroke-width="0.9"/>
<circle cx="488.69" cy="124.23" r="1.5" fill="#fcebd9" stroke="#f0b682" stroke-width="0.9"/>
<circle cx="491.17" cy="139.41" r="1.5" fill="#fcebd9" stroke="#f0b682" stroke-width="0.9"/>
<circle cx="493.64" cy="161.18" r="1.5" fill="#fcebd9" stroke="#f0b682" stroke-width="0.9"/>
<circle cx="496.12" cy="169.83" r="1.5" fill="#fcebd9" stroke="#f0b682" stroke-width="0.9"/>
<circle cx="498.6" cy="182.43" r="1.5" fill="#fcebd9" stroke="#f0b682" stroke-width="0.9"/>
<circle cx="501.07" cy="187.06" r="1.5" fill="#fcebd9" stroke="#f0b682" stroke-width="0.9"/>
<circle cx="503.55" cy="189.55" r="1.5" fill="#fcebd9" stroke="#f0b682" stroke-width="0.9"/>
<circle cx="506.02" cy="190.37" r="1.5" fill="#fcebd9" stroke="#f0b682" stroke-width="0.9"/>
<circle cx="508.5" cy="191.01" r="1.5" fill="#fcebd9" stroke="#f0b682" stroke-width="0.9"/>
<circle cx="510.98" cy="191.74" r="1.5" fill="#fcebd9" stroke="#f0b682" stroke-width="0.9"/>
<circle cx="513.45" cy="193" r="1.5" fill="#fcebd9" stroke="#f0b682" stroke-width="0.9"/>
<circle cx="515.93" cy="194.28" r="1.5" fill="#fcebd9" stroke="#f0b682" stroke-width="0.9"/>
<circle cx="518.4" cy="195.4" r="1.5" fill="#fcebd9" stroke="#f0b682" stroke-width="0.9"/>
<circle cx="520.88" cy="196.02" r="1.5" fill="#fcebd9" stroke="#f0b682" stroke-width="0.9"/>
<circle cx="322.8" cy="200.5" r="1.5" fill="#fcebd9" stroke="#f0b682" stroke-width="0.9"/>
<circle cx="325.28" cy="200.23" r="1.5" fill="#fcebd9" stroke="#f0b682" stroke-width="0.9"/>
<circle cx="327.75" cy="199.91" r="1.5" fill="#fcebd9" stroke="#f0b682" stroke-width="0.9"/>
<circle cx="330.23" cy="199.55" r="1.5" fill="#fcebd9" stroke="#f0b682" stroke-width="0.9"/>
<circle cx="332.7" cy="199.16" r="1.5" fill="#fcebd9" stroke="#f0b682" stroke-width="0.9"/>
<circle cx="335.18" cy="198.71" r="1.5" fill="#fcebd9" stroke="#f0b682" stroke-width="0.9"/>
<circle cx="337.66" cy="198.18" r="1.5" fill="#fcebd9" stroke="#f0b682" stroke-width="0.9"/>
<circle cx="340.13" cy="197.52" r="1.5" fill="#fcebd9" stroke="#f0b682" stroke-width="0.9"/>
<circle cx="342.61" cy="196.71" r="1.5" fill="#fcebd9" stroke="#f0b682" stroke-width="0.9"/>
<circle cx="345.08" cy="195.79" r="1.5" fill="#fcebd9" stroke="#f0b682" stroke-width="0.9"/>
<circle cx="347.56" cy="194.78" r="1.5" fill="#fcebd9" stroke="#f0b682" stroke-width="0.9"/>
<circle cx="350.04" cy="193.67" r="1.5" fill="#fcebd9" stroke="#f0b682" stroke-width="0.9"/>
<circle cx="352.51" cy="192.41" r="1.5" fill="#fcebd9" stroke="#f0b682" stroke-width="0.9"/>
<circle cx="354.99" cy="190.95" r="1.5" fill="#fcebd9" stroke="#f0b682" stroke-width="0.9"/>
<circle cx="357.46" cy="189.21" r="1.5" fill="#fcebd9" stroke="#f0b682" stroke-width="0.9"/>
<circle cx="359.94" cy="187.09" r="1.5" fill="#fcebd9" stroke="#f0b682" stroke-width="0.9"/>
<circle cx="362.42" cy="184.71" r="1.5" fill="#fcebd9" stroke="#f0b682" stroke-width="0.9"/>
<circle cx="364.89" cy="181.97" r="1.5" fill="#fcebd9" stroke="#f0b682" stroke-width="0.9"/>
<circle cx="367.37" cy="179.07" r="1.5" fill="#fcebd9" stroke="#f0b682" stroke-width="0.9"/>
<circle cx="369.84" cy="176.26" r="1.5" fill="#fcebd9" stroke="#f0b682" stroke-width="0.9"/>
<circle cx="372.32" cy="173.47" r="1.5" fill="#fcebd9" stroke="#f0b682" stroke-width="0.9"/>
<circle cx="374.8" cy="170.68" r="1.5" fill="#fcebd9" stroke="#f0b682" stroke-width="0.9"/>
<circle cx="377.27" cy="167.93" r="1.5" fill="#fcebd9" stroke="#f0b682" stroke-width="0.9"/>
<circle cx="379.75" cy="165.08" r="1.5" fill="#fcebd9" stroke="#f0b682" stroke-width="0.9"/>
<circle cx="382.22" cy="161.98" r="1.5" fill="#fcebd9" stroke="#f0b682" stroke-width="0.9"/>
<circle cx="384.7" cy="158.85" r="1.5" fill="#fcebd9" stroke="#f0b682" stroke-width="0.9"/>
<circle cx="387.18" cy="155.95" r="1.5" fill="#fcebd9" stroke="#f0b682" stroke-width="0.9"/>
<circle cx="389.65" cy="153.12" r="1.5" fill="#fcebd9" stroke="#f0b682" stroke-width="0.9"/>
<circle cx="392.13" cy="150.06" r="1.5" fill="#fcebd9" stroke="#f0b682" stroke-width="0.9"/>
<circle cx="394.6" cy="146.64" r="1.5" fill="#fcebd9" stroke="#f0b682" stroke-width="0.9"/>
<circle cx="397.08" cy="143.11" r="1.5" fill="#fcebd9" stroke="#f0b682" stroke-width="0.9"/>
<circle cx="399.56" cy="139.68" r="1.5" fill="#fcebd9" stroke="#f0b682" stroke-width="0.9"/>
<circle cx="402.03" cy="136.27" r="1.5" fill="#fcebd9" stroke="#f0b682" stroke-width="0.9"/>
<circle cx="404.51" cy="132.96" r="1.5" fill="#fcebd9" stroke="#f0b682" stroke-width="0.9"/>
<circle cx="406.98" cy="129.81" r="1.5" fill="#fcebd9" stroke="#f0b682" stroke-width="0.9"/>
<circle cx="409.46" cy="126.74" r="1.5" fill="#fcebd9" stroke="#f0b682" stroke-width="0.9"/>
<circle cx="411.94" cy="123.67" r="1.5" fill="#fcebd9" stroke="#f0b682" stroke-width="0.9"/>
<circle cx="414.41" cy="120.52" r="1.5" fill="#fcebd9" stroke="#f0b682" stroke-width="0.9"/>
<circle cx="416.89" cy="117.35" r="1.5" fill="#fcebd9" stroke="#f0b682" stroke-width="0.9"/>
<circle cx="419.36" cy="114.22" r="1.5" fill="#fcebd9" stroke="#f0b682" stroke-width="0.9"/>
<circle cx="421.84" cy="111.16" r="1.5" fill="#fcebd9" stroke="#f0b682" stroke-width="0.9"/>
<circle cx="424.32" cy="108.15" r="1.5" fill="#fcebd9" stroke="#f0b682" stroke-width="0.9"/>
<circle cx="426.79" cy="105.25" r="1.5" fill="#fcebd9" stroke="#f0b682" stroke-width="0.9"/>
<circle cx="429.27" cy="102.51" r="1.5" fill="#fcebd9" stroke="#f0b682" stroke-width="0.9"/>
<circle cx="431.74" cy="99.86" r="1.5" fill="#fcebd9" stroke="#f0b682" stroke-width="0.9"/>
<circle cx="434.22" cy="97.2" r="1.5" fill="#fcebd9" stroke="#f0b682" stroke-width="0.9"/>
<circle cx="436.7" cy="94.43" r="1.5" fill="#fcebd9" stroke="#f0b682" stroke-width="0.9"/>
<circle cx="439.17" cy="91.48" r="1.5" fill="#fcebd9" stroke="#f0b682" stroke-width="0.9"/>
<circle cx="441.65" cy="88.5" r="1.5" fill="#fcebd9" stroke="#f0b682" stroke-width="0.9"/>
<circle cx="444.12" cy="85.69" r="1.5" fill="#fcebd9" stroke="#f0b682" stroke-width="0.9"/>
<circle cx="446.6" cy="83.21" r="1.5" fill="#fcebd9" stroke="#f0b682" stroke-width="0.9"/>
<circle cx="449.08" cy="80.9" r="1.5" fill="#fcebd9" stroke="#f0b682" stroke-width="0.9"/>
<circle cx="451.55" cy="78.47" r="1.5" fill="#fcebd9" stroke="#f0b682" stroke-width="0.9"/>
<circle cx="454.03" cy="75.73" r="1.5" fill="#fcebd9" stroke="#f0b682" stroke-width="0.9"/>
<circle cx="456.5" cy="72.85" r="1.5" fill="#fcebd9" stroke="#f0b682" stroke-width="0.9"/>
<circle cx="458.98" cy="69.97" r="1.5" fill="#fcebd9" stroke="#f0b682" stroke-width="0.9"/>
<circle cx="461.46" cy="67.05" r="1.5" fill="#fcebd9" stroke="#f0b682" stroke-width="0.9"/>
<circle cx="463.93" cy="64.29" r="1.5" fill="#fcebd9" stroke="#f0b682" stroke-width="0.9"/>
<circle cx="466.41" cy="61.77" r="1.5" fill="#fcebd9" stroke="#f0b682" stroke-width="0.9"/>
<circle cx="468.88" cy="59.41" r="1.5" fill="#fcebd9" stroke="#f0b682" stroke-width="0.9"/>
<circle cx="471.36" cy="57" r="1.5" fill="#fcebd9" stroke="#f0b682" stroke-width="0.9"/>
<circle cx="473.84" cy="54.24" r="1.5" fill="#fcebd9" stroke="#f0b682" stroke-width="0.9"/>
<circle cx="476.31" cy="52.06" r="1.5" fill="#fcebd9" stroke="#f0b682" stroke-width="0.9"/>
<circle cx="478.79" cy="50.4" r="1.5" fill="#fcebd9" stroke="#f0b682" stroke-width="0.9"/>
<circle cx="481.26" cy="49.61" r="1.5" fill="#fcebd9" stroke="#f0b682" stroke-width="0.9"/>
<circle cx="483.74" cy="49.06" r="1.5" fill="#fcebd9" stroke="#f0b682" stroke-width="0.9"/>
<circle cx="486.22" cy="48.48" r="1.5" fill="#fcebd9" stroke="#f0b682" stroke-width="0.9"/>
<circle cx="488.69" cy="47.91" r="1.5" fill="#fcebd9" stroke="#f0b682" stroke-width="0.9"/>
<circle cx="491.17" cy="47.19" r="1.5" fill="#fcebd9" stroke="#f0b682" stroke-width="0.9"/>
<circle cx="493.64" cy="46.48" r="1.5" fill="#fcebd9" stroke="#f0b682" stroke-width="0.9"/>
<circle cx="496.12" cy="45.93" r="1.5" fill="#fcebd9" stroke="#f0b682" stroke-width="0.9"/>
<circle cx="498.6" cy="45.56" r="1.5" fill="#fcebd9" stroke="#f0b682" stroke-width="0.9"/>
<circle cx="501.07" cy="45.27" r="1.5" fill="#fcebd9" stroke="#f0b682" stroke-width="0.9"/>
<circle cx="503.55" cy="45.09" r="1.5" fill="#fcebd9" stroke="#f0b682" stroke-width="0.9"/>
<circle cx="506.02" cy="44.95" r="1.5" fill="#fcebd9" stroke="#f0b682" stroke-width="0.9"/>
<circle cx="508.5" cy="44.87" r="1.5" fill="#fcebd9" stroke="#f0b682" stroke-width="0.9"/>
<circle cx="510.98" cy="44.85" r="1.5" fill="#fcebd9" stroke="#f0b682" stroke-width="0.9"/>
<circle cx="513.45" cy="44.84" r="1.5" fill="#fcebd9" stroke="#f0b682" stroke-width="0.9"/>
<circle cx="515.93" cy="44.83" r="1.5" fill="#fcebd9" stroke="#f0b682" stroke-width="0.9"/>
<circle cx="518.4" cy="44.83" r="1.5" fill="#fcebd9" stroke="#f0b682" stroke-width="0.9"/>
<circle cx="520.88" cy="44.82" r="1.5" fill="#fcebd9" stroke="#f0b682" stroke-width="0.9"/>
<polyline points="322.8,177.29 325.28,152.24 327.75,123.24 330.23,102.77 332.7,91.13 335.18,77.66 337.66,71.31 340.13,65.22 342.61,64.34 345.08,63.1 347.56,61.7 350.04,60.56 352.51,58.73 354.99,55.02 357.46,52.38 359.94,50.34 362.42,48.61 364.89,47.1 367.37,47.15 369.84,48.56 372.32,48.59 374.8,48.21 377.27,48.51 379.75,49.2 382.22,47.38 384.7,46.23 387.18,46 389.65,46.7 392.13,48.76 394.6,49.59 397.08,50.01 399.56,50.25 402.03,49.95 404.51,49.11 406.98,47.88 409.46,47.15 411.94,47.05 414.41,47.46 416.89,47.47 419.36,47.47 421.84,47.47 424.32,47.53 426.79,48.17 429.27,50.07 431.74,51.71 434.22,52.47 436.7,53.36 439.17,54.78 441.65,55.09 444.12,55.41 446.6,57.15 449.08,59.04 451.55,61.39 454.03,62.48 456.5,63.36 458.98,64.41 461.46,65.14 463.93,65.7 466.41,65.93 468.88,67.77 471.36,69.85 473.84,70.91 476.31,72.38 478.79,77.81 481.26,86.27 483.74,95.28 486.22,108.58 488.69,130.87 491.17,145.05 493.64,165.32 496.12,173.01 498.6,184.92 501.07,189.11 503.55,191.23 506.02,191.79 508.5,192.33 510.98,193.06 513.45,194.33 515.93,195.61 518.4,196.72 520.88,197.35" fill="none" stroke="#1d4f7e" stroke-width="1.8" stroke-linejoin="round" stroke-linecap="round"/>
<polyline points="322.8,200.5 325.28,200.23 327.75,199.91 330.23,199.55 332.7,199.16 335.18,198.72 337.66,198.19 340.13,197.53 342.61,196.73 345.08,195.82 347.56,194.82 350.04,193.72 352.51,192.47 354.99,191.03 357.46,189.31 359.94,187.2 362.42,184.85 364.89,182.14 367.37,179.27 369.84,176.5 372.32,173.74 374.8,170.98 377.27,168.26 379.75,165.45 382.22,162.38 384.7,159.29 387.18,156.43 389.65,153.62 392.13,150.6 394.6,147.22 397.08,143.73 399.56,140.34 402.03,136.98 404.51,133.71 406.98,130.6 409.46,127.57 411.94,124.54 414.41,121.44 416.89,118.31 419.36,115.23 421.84,112.22 424.32,109.27 426.79,106.43 429.27,103.76 431.74,101.19 434.22,98.61 436.7,95.94 439.17,93.09 441.65,90.23 444.12,87.54 446.6,85.17 449.08,82.97 451.55,80.65 454.03,78.04 456.5,75.28 458.98,72.53 461.46,69.73 463.93,67.11 466.41,64.72 468.88,62.49 471.36,60.21 473.84,57.58 476.31,55.53 478.79,53.97 481.26,53.25 483.74,52.76 486.22,52.22 488.69,51.7 491.17,51.02 493.64,50.36 496.12,49.85 498.6,49.51 501.07,49.26 503.55,49.1 506.02,48.98 508.5,48.92 510.98,48.92 513.45,48.92 515.93,48.92 518.4,48.92 520.88,48.92" fill="none" stroke="#1d4f7e" stroke-width="1.8" stroke-linejoin="round" stroke-linecap="round"/>
<circle cx="322.8" cy="177.29" r="1.5" fill="#d5e6f3" stroke="#1d4f7e" stroke-width="1.25"/>
<circle cx="325.28" cy="152.24" r="1.5" fill="#d5e6f3" stroke="#1d4f7e" stroke-width="1.25"/>
<circle cx="327.75" cy="123.24" r="1.5" fill="#d5e6f3" stroke="#1d4f7e" stroke-width="1.25"/>
<circle cx="330.23" cy="102.77" r="1.5" fill="#d5e6f3" stroke="#1d4f7e" stroke-width="1.25"/>
<circle cx="332.7" cy="91.13" r="1.5" fill="#d5e6f3" stroke="#1d4f7e" stroke-width="1.25"/>
<circle cx="335.18" cy="77.66" r="1.5" fill="#d5e6f3" stroke="#1d4f7e" stroke-width="1.25"/>
<circle cx="337.66" cy="71.31" r="1.5" fill="#d5e6f3" stroke="#1d4f7e" stroke-width="1.25"/>
<circle cx="340.13" cy="65.22" r="1.5" fill="#d5e6f3" stroke="#1d4f7e" stroke-width="1.25"/>
<circle cx="342.61" cy="64.34" r="1.5" fill="#d5e6f3" stroke="#1d4f7e" stroke-width="1.25"/>
<circle cx="345.08" cy="63.1" r="1.5" fill="#d5e6f3" stroke="#1d4f7e" stroke-width="1.25"/>
<circle cx="347.56" cy="61.7" r="1.5" fill="#d5e6f3" stroke="#1d4f7e" stroke-width="1.25"/>
<circle cx="350.04" cy="60.56" r="1.5" fill="#d5e6f3" stroke="#1d4f7e" stroke-width="1.25"/>
<circle cx="352.51" cy="58.73" r="1.5" fill="#d5e6f3" stroke="#1d4f7e" stroke-width="1.25"/>
<circle cx="354.99" cy="55.02" r="1.5" fill="#d5e6f3" stroke="#1d4f7e" stroke-width="1.25"/>
<circle cx="357.46" cy="52.38" r="1.5" fill="#d5e6f3" stroke="#1d4f7e" stroke-width="1.25"/>
<circle cx="359.94" cy="50.34" r="1.5" fill="#d5e6f3" stroke="#1d4f7e" stroke-width="1.25"/>
<circle cx="362.42" cy="48.61" r="1.5" fill="#d5e6f3" stroke="#1d4f7e" stroke-width="1.25"/>
<circle cx="364.89" cy="47.1" r="1.5" fill="#d5e6f3" stroke="#1d4f7e" stroke-width="1.25"/>
<circle cx="367.37" cy="47.15" r="1.5" fill="#d5e6f3" stroke="#1d4f7e" stroke-width="1.25"/>
<circle cx="369.84" cy="48.56" r="1.5" fill="#d5e6f3" stroke="#1d4f7e" stroke-width="1.25"/>
<circle cx="372.32" cy="48.59" r="1.5" fill="#d5e6f3" stroke="#1d4f7e" stroke-width="1.25"/>
<circle cx="374.8" cy="48.21" r="1.5" fill="#d5e6f3" stroke="#1d4f7e" stroke-width="1.25"/>
<circle cx="377.27" cy="48.51" r="1.5" fill="#d5e6f3" stroke="#1d4f7e" stroke-width="1.25"/>
<circle cx="379.75" cy="49.2" r="1.5" fill="#d5e6f3" stroke="#1d4f7e" stroke-width="1.25"/>
<circle cx="382.22" cy="47.38" r="1.5" fill="#d5e6f3" stroke="#1d4f7e" stroke-width="1.25"/>
<circle cx="384.7" cy="46.23" r="1.5" fill="#d5e6f3" stroke="#1d4f7e" stroke-width="1.25"/>
<circle cx="387.18" cy="46" r="1.5" fill="#d5e6f3" stroke="#1d4f7e" stroke-width="1.25"/>
<circle cx="389.65" cy="46.7" r="1.5" fill="#d5e6f3" stroke="#1d4f7e" stroke-width="1.25"/>
<circle cx="392.13" cy="48.76" r="1.5" fill="#d5e6f3" stroke="#1d4f7e" stroke-width="1.25"/>
<circle cx="394.6" cy="49.59" r="1.5" fill="#d5e6f3" stroke="#1d4f7e" stroke-width="1.25"/>
<circle cx="397.08" cy="50.01" r="1.5" fill="#d5e6f3" stroke="#1d4f7e" stroke-width="1.25"/>
<circle cx="399.56" cy="50.25" r="1.5" fill="#d5e6f3" stroke="#1d4f7e" stroke-width="1.25"/>
<circle cx="402.03" cy="49.95" r="1.5" fill="#d5e6f3" stroke="#1d4f7e" stroke-width="1.25"/>
<circle cx="404.51" cy="49.11" r="1.5" fill="#d5e6f3" stroke="#1d4f7e" stroke-width="1.25"/>
<circle cx="406.98" cy="47.88" r="1.5" fill="#d5e6f3" stroke="#1d4f7e" stroke-width="1.25"/>
<circle cx="409.46" cy="47.15" r="1.5" fill="#d5e6f3" stroke="#1d4f7e" stroke-width="1.25"/>
<circle cx="411.94" cy="47.05" r="1.5" fill="#d5e6f3" stroke="#1d4f7e" stroke-width="1.25"/>
<circle cx="414.41" cy="47.46" r="1.5" fill="#d5e6f3" stroke="#1d4f7e" stroke-width="1.25"/>
<circle cx="416.89" cy="47.47" r="1.5" fill="#d5e6f3" stroke="#1d4f7e" stroke-width="1.25"/>
<circle cx="419.36" cy="47.47" r="1.5" fill="#d5e6f3" stroke="#1d4f7e" stroke-width="1.25"/>
<circle cx="421.84" cy="47.47" r="1.5" fill="#d5e6f3" stroke="#1d4f7e" stroke-width="1.25"/>
<circle cx="424.32" cy="47.53" r="1.5" fill="#d5e6f3" stroke="#1d4f7e" stroke-width="1.25"/>
<circle cx="426.79" cy="48.17" r="1.5" fill="#d5e6f3" stroke="#1d4f7e" stroke-width="1.25"/>
<circle cx="429.27" cy="50.07" r="1.5" fill="#d5e6f3" stroke="#1d4f7e" stroke-width="1.25"/>
<circle cx="431.74" cy="51.71" r="1.5" fill="#d5e6f3" stroke="#1d4f7e" stroke-width="1.25"/>
<circle cx="434.22" cy="52.47" r="1.5" fill="#d5e6f3" stroke="#1d4f7e" stroke-width="1.25"/>
<circle cx="436.7" cy="53.36" r="1.5" fill="#d5e6f3" stroke="#1d4f7e" stroke-width="1.25"/>
<circle cx="439.17" cy="54.78" r="1.5" fill="#d5e6f3" stroke="#1d4f7e" stroke-width="1.25"/>
<circle cx="441.65" cy="55.09" r="1.5" fill="#d5e6f3" stroke="#1d4f7e" stroke-width="1.25"/>
<circle cx="444.12" cy="55.41" r="1.5" fill="#d5e6f3" stroke="#1d4f7e" stroke-width="1.25"/>
<circle cx="446.6" cy="57.15" r="1.5" fill="#d5e6f3" stroke="#1d4f7e" stroke-width="1.25"/>
<circle cx="449.08" cy="59.04" r="1.5" fill="#d5e6f3" stroke="#1d4f7e" stroke-width="1.25"/>
<circle cx="451.55" cy="61.39" r="1.5" fill="#d5e6f3" stroke="#1d4f7e" stroke-width="1.25"/>
<circle cx="454.03" cy="62.48" r="1.5" fill="#d5e6f3" stroke="#1d4f7e" stroke-width="1.25"/>
<circle cx="456.5" cy="63.36" r="1.5" fill="#d5e6f3" stroke="#1d4f7e" stroke-width="1.25"/>
<circle cx="458.98" cy="64.41" r="1.5" fill="#d5e6f3" stroke="#1d4f7e" stroke-width="1.25"/>
<circle cx="461.46" cy="65.14" r="1.5" fill="#d5e6f3" stroke="#1d4f7e" stroke-width="1.25"/>
<circle cx="463.93" cy="65.7" r="1.5" fill="#d5e6f3" stroke="#1d4f7e" stroke-width="1.25"/>
<circle cx="466.41" cy="65.93" r="1.5" fill="#d5e6f3" stroke="#1d4f7e" stroke-width="1.25"/>
<circle cx="468.88" cy="67.77" r="1.5" fill="#d5e6f3" stroke="#1d4f7e" stroke-width="1.25"/>
<circle cx="471.36" cy="69.85" r="1.5" fill="#d5e6f3" stroke="#1d4f7e" stroke-width="1.25"/>
<circle cx="473.84" cy="70.91" r="1.5" fill="#d5e6f3" stroke="#1d4f7e" stroke-width="1.25"/>
<circle cx="476.31" cy="72.38" r="1.5" fill="#d5e6f3" stroke="#1d4f7e" stroke-width="1.25"/>
<circle cx="478.79" cy="77.81" r="1.5" fill="#d5e6f3" stroke="#1d4f7e" stroke-width="1.25"/>
<circle cx="481.26" cy="86.27" r="1.5" fill="#d5e6f3" stroke="#1d4f7e" stroke-width="1.25"/>
<circle cx="483.74" cy="95.28" r="1.5" fill="#d5e6f3" stroke="#1d4f7e" stroke-width="1.25"/>
<circle cx="486.22" cy="108.58" r="1.5" fill="#d5e6f3" stroke="#1d4f7e" stroke-width="1.25"/>
<circle cx="488.69" cy="130.87" r="1.5" fill="#d5e6f3" stroke="#1d4f7e" stroke-width="1.25"/>
<circle cx="491.17" cy="145.05" r="1.5" fill="#d5e6f3" stroke="#1d4f7e" stroke-width="1.25"/>
<circle cx="493.64" cy="165.32" r="1.5" fill="#d5e6f3" stroke="#1d4f7e" stroke-width="1.25"/>
<circle cx="496.12" cy="173.01" r="1.5" fill="#d5e6f3" stroke="#1d4f7e" stroke-width="1.25"/>
<circle cx="498.6" cy="184.92" r="1.5" fill="#d5e6f3" stroke="#1d4f7e" stroke-width="1.25"/>
<circle cx="501.07" cy="189.11" r="1.5" fill="#d5e6f3" stroke="#1d4f7e" stroke-width="1.25"/>
<circle cx="503.55" cy="191.23" r="1.5" fill="#d5e6f3" stroke="#1d4f7e" stroke-width="1.25"/>
<circle cx="506.02" cy="191.79" r="1.5" fill="#d5e6f3" stroke="#1d4f7e" stroke-width="1.25"/>
<circle cx="508.5" cy="192.33" r="1.5" fill="#d5e6f3" stroke="#1d4f7e" stroke-width="1.25"/>
<circle cx="510.98" cy="193.06" r="1.5" fill="#d5e6f3" stroke="#1d4f7e" stroke-width="1.25"/>
<circle cx="513.45" cy="194.33" r="1.5" fill="#d5e6f3" stroke="#1d4f7e" stroke-width="1.25"/>
<circle cx="515.93" cy="195.61" r="1.5" fill="#d5e6f3" stroke="#1d4f7e" stroke-width="1.25"/>
<circle cx="518.4" cy="196.72" r="1.5" fill="#d5e6f3" stroke="#1d4f7e" stroke-width="1.25"/>
<circle cx="520.88" cy="197.35" r="1.5" fill="#d5e6f3" stroke="#1d4f7e" stroke-width="1.25"/>
<circle cx="322.8" cy="200.5" r="1.5" fill="#d5e6f3" stroke="#1d4f7e" stroke-width="1.25"/>
<circle cx="325.28" cy="200.23" r="1.5" fill="#d5e6f3" stroke="#1d4f7e" stroke-width="1.25"/>
<circle cx="327.75" cy="199.91" r="1.5" fill="#d5e6f3" stroke="#1d4f7e" stroke-width="1.25"/>
<circle cx="330.23" cy="199.55" r="1.5" fill="#d5e6f3" stroke="#1d4f7e" stroke-width="1.25"/>
<circle cx="332.7" cy="199.16" r="1.5" fill="#d5e6f3" stroke="#1d4f7e" stroke-width="1.25"/>
<circle cx="335.18" cy="198.72" r="1.5" fill="#d5e6f3" stroke="#1d4f7e" stroke-width="1.25"/>
<circle cx="337.66" cy="198.19" r="1.5" fill="#d5e6f3" stroke="#1d4f7e" stroke-width="1.25"/>
<circle cx="340.13" cy="197.53" r="1.5" fill="#d5e6f3" stroke="#1d4f7e" stroke-width="1.25"/>
<circle cx="342.61" cy="196.73" r="1.5" fill="#d5e6f3" stroke="#1d4f7e" stroke-width="1.25"/>
<circle cx="345.08" cy="195.82" r="1.5" fill="#d5e6f3" stroke="#1d4f7e" stroke-width="1.25"/>
<circle cx="347.56" cy="194.82" r="1.5" fill="#d5e6f3" stroke="#1d4f7e" stroke-width="1.25"/>
<circle cx="350.04" cy="193.72" r="1.5" fill="#d5e6f3" stroke="#1d4f7e" stroke-width="1.25"/>
<circle cx="352.51" cy="192.47" r="1.5" fill="#d5e6f3" stroke="#1d4f7e" stroke-width="1.25"/>
<circle cx="354.99" cy="191.03" r="1.5" fill="#d5e6f3" stroke="#1d4f7e" stroke-width="1.25"/>
<circle cx="357.46" cy="189.31" r="1.5" fill="#d5e6f3" stroke="#1d4f7e" stroke-width="1.25"/>
<circle cx="359.94" cy="187.2" r="1.5" fill="#d5e6f3" stroke="#1d4f7e" stroke-width="1.25"/>
<circle cx="362.42" cy="184.85" r="1.5" fill="#d5e6f3" stroke="#1d4f7e" stroke-width="1.25"/>
<circle cx="364.89" cy="182.14" r="1.5" fill="#d5e6f3" stroke="#1d4f7e" stroke-width="1.25"/>
<circle cx="367.37" cy="179.27" r="1.5" fill="#d5e6f3" stroke="#1d4f7e" stroke-width="1.25"/>
<circle cx="369.84" cy="176.5" r="1.5" fill="#d5e6f3" stroke="#1d4f7e" stroke-width="1.25"/>
<circle cx="372.32" cy="173.74" r="1.5" fill="#d5e6f3" stroke="#1d4f7e" stroke-width="1.25"/>
<circle cx="374.8" cy="170.98" r="1.5" fill="#d5e6f3" stroke="#1d4f7e" stroke-width="1.25"/>
<circle cx="377.27" cy="168.26" r="1.5" fill="#d5e6f3" stroke="#1d4f7e" stroke-width="1.25"/>
<circle cx="379.75" cy="165.45" r="1.5" fill="#d5e6f3" stroke="#1d4f7e" stroke-width="1.25"/>
<circle cx="382.22" cy="162.38" r="1.5" fill="#d5e6f3" stroke="#1d4f7e" stroke-width="1.25"/>
<circle cx="384.7" cy="159.29" r="1.5" fill="#d5e6f3" stroke="#1d4f7e" stroke-width="1.25"/>
<circle cx="387.18" cy="156.43" r="1.5" fill="#d5e6f3" stroke="#1d4f7e" stroke-width="1.25"/>
<circle cx="389.65" cy="153.62" r="1.5" fill="#d5e6f3" stroke="#1d4f7e" stroke-width="1.25"/>
<circle cx="392.13" cy="150.6" r="1.5" fill="#d5e6f3" stroke="#1d4f7e" stroke-width="1.25"/>
<circle cx="394.6" cy="147.22" r="1.5" fill="#d5e6f3" stroke="#1d4f7e" stroke-width="1.25"/>
<circle cx="397.08" cy="143.73" r="1.5" fill="#d5e6f3" stroke="#1d4f7e" stroke-width="1.25"/>
<circle cx="399.56" cy="140.34" r="1.5" fill="#d5e6f3" stroke="#1d4f7e" stroke-width="1.25"/>
<circle cx="402.03" cy="136.98" r="1.5" fill="#d5e6f3" stroke="#1d4f7e" stroke-width="1.25"/>
<circle cx="404.51" cy="133.71" r="1.5" fill="#d5e6f3" stroke="#1d4f7e" stroke-width="1.25"/>
<circle cx="406.98" cy="130.6" r="1.5" fill="#d5e6f3" stroke="#1d4f7e" stroke-width="1.25"/>
<circle cx="409.46" cy="127.57" r="1.5" fill="#d5e6f3" stroke="#1d4f7e" stroke-width="1.25"/>
<circle cx="411.94" cy="124.54" r="1.5" fill="#d5e6f3" stroke="#1d4f7e" stroke-width="1.25"/>
<circle cx="414.41" cy="121.44" r="1.5" fill="#d5e6f3" stroke="#1d4f7e" stroke-width="1.25"/>
<circle cx="416.89" cy="118.31" r="1.5" fill="#d5e6f3" stroke="#1d4f7e" stroke-width="1.25"/>
<circle cx="419.36" cy="115.23" r="1.5" fill="#d5e6f3" stroke="#1d4f7e" stroke-width="1.25"/>
<circle cx="421.84" cy="112.22" r="1.5" fill="#d5e6f3" stroke="#1d4f7e" stroke-width="1.25"/>
<circle cx="424.32" cy="109.27" r="1.5" fill="#d5e6f3" stroke="#1d4f7e" stroke-width="1.25"/>
<circle cx="426.79" cy="106.43" r="1.5" fill="#d5e6f3" stroke="#1d4f7e" stroke-width="1.25"/>
<circle cx="429.27" cy="103.76" r="1.5" fill="#d5e6f3" stroke="#1d4f7e" stroke-width="1.25"/>
<circle cx="431.74" cy="101.19" r="1.5" fill="#d5e6f3" stroke="#1d4f7e" stroke-width="1.25"/>
<circle cx="434.22" cy="98.61" r="1.5" fill="#d5e6f3" stroke="#1d4f7e" stroke-width="1.25"/>
<circle cx="436.7" cy="95.94" r="1.5" fill="#d5e6f3" stroke="#1d4f7e" stroke-width="1.25"/>
<circle cx="439.17" cy="93.09" r="1.5" fill="#d5e6f3" stroke="#1d4f7e" stroke-width="1.25"/>
<circle cx="441.65" cy="90.23" r="1.5" fill="#d5e6f3" stroke="#1d4f7e" stroke-width="1.25"/>
<circle cx="444.12" cy="87.54" r="1.5" fill="#d5e6f3" stroke="#1d4f7e" stroke-width="1.25"/>
<circle cx="446.6" cy="85.17" r="1.5" fill="#d5e6f3" stroke="#1d4f7e" stroke-width="1.25"/>
<circle cx="449.08" cy="82.97" r="1.5" fill="#d5e6f3" stroke="#1d4f7e" stroke-width="1.25"/>
<circle cx="451.55" cy="80.65" r="1.5" fill="#d5e6f3" stroke="#1d4f7e" stroke-width="1.25"/>
<circle cx="454.03" cy="78.04" r="1.5" fill="#d5e6f3" stroke="#1d4f7e" stroke-width="1.25"/>
<circle cx="456.5" cy="75.28" r="1.5" fill="#d5e6f3" stroke="#1d4f7e" stroke-width="1.25"/>
<circle cx="458.98" cy="72.53" r="1.5" fill="#d5e6f3" stroke="#1d4f7e" stroke-width="1.25"/>
<circle cx="461.46" cy="69.73" r="1.5" fill="#d5e6f3" stroke="#1d4f7e" stroke-width="1.25"/>
<circle cx="463.93" cy="67.11" r="1.5" fill="#d5e6f3" stroke="#1d4f7e" stroke-width="1.25"/>
<circle cx="466.41" cy="64.72" r="1.5" fill="#d5e6f3" stroke="#1d4f7e" stroke-width="1.25"/>
<circle cx="468.88" cy="62.49" r="1.5" fill="#d5e6f3" stroke="#1d4f7e" stroke-width="1.25"/>
<circle cx="471.36" cy="60.21" r="1.5" fill="#d5e6f3" stroke="#1d4f7e" stroke-width="1.25"/>
<circle cx="473.84" cy="57.58" r="1.5" fill="#d5e6f3" stroke="#1d4f7e" stroke-width="1.25"/>
<circle cx="476.31" cy="55.53" r="1.5" fill="#d5e6f3" stroke="#1d4f7e" stroke-width="1.25"/>
<circle cx="478.79" cy="53.97" r="1.5" fill="#d5e6f3" stroke="#1d4f7e" stroke-width="1.25"/>
<circle cx="481.26" cy="53.25" r="1.5" fill="#d5e6f3" stroke="#1d4f7e" stroke-width="1.25"/>
<circle cx="483.74" cy="52.76" r="1.5" fill="#d5e6f3" stroke="#1d4f7e" stroke-width="1.25"/>
<circle cx="486.22" cy="52.22" r="1.5" fill="#d5e6f3" stroke="#1d4f7e" stroke-width="1.25"/>
<circle cx="488.69" cy="51.7" r="1.5" fill="#d5e6f3" stroke="#1d4f7e" stroke-width="1.25"/>
<circle cx="491.17" cy="51.02" r="1.5" fill="#d5e6f3" stroke="#1d4f7e" stroke-width="1.25"/>
<circle cx="493.64" cy="50.36" r="1.5" fill="#d5e6f3" stroke="#1d4f7e" stroke-width="1.25"/>
<circle cx="496.12" cy="49.85" r="1.5" fill="#d5e6f3" stroke="#1d4f7e" stroke-width="1.25"/>
<circle cx="498.6" cy="49.51" r="1.5" fill="#d5e6f3" stroke="#1d4f7e" stroke-width="1.25"/>
<circle cx="501.07" cy="49.26" r="1.5" fill="#d5e6f3" stroke="#1d4f7e" stroke-width="1.25"/>
<circle cx="503.55" cy="49.1" r="1.5" fill="#d5e6f3" stroke="#1d4f7e" stroke-width="1.25"/>
<circle cx="506.02" cy="48.98" r="1.5" fill="#d5e6f3" stroke="#1d4f7e" stroke-width="1.25"/>
<circle cx="508.5" cy="48.92" r="1.5" fill="#d5e6f3" stroke="#1d4f7e" stroke-width="1.25"/>
<circle cx="510.98" cy="48.92" r="1.5" fill="#d5e6f3" stroke="#1d4f7e" stroke-width="1.25"/>
<circle cx="513.45" cy="48.92" r="1.5" fill="#d5e6f3" stroke="#1d4f7e" stroke-width="1.25"/>
<circle cx="515.93" cy="48.92" r="1.5" fill="#d5e6f3" stroke="#1d4f7e" stroke-width="1.25"/>
<circle cx="518.4" cy="48.92" r="1.5" fill="#d5e6f3" stroke="#1d4f7e" stroke-width="1.25"/>
<circle cx="520.88" cy="48.92" r="1.5" fill="#d5e6f3" stroke="#1d4f7e" stroke-width="1.25"/>
<line x1="410.8" y1="173.5" x2="426.4" y2="173.5" stroke="#1d4f7e" stroke-width="1.4"/>
<circle cx="418.9" cy="173.5" r="1.6" fill="#d5e6f3" stroke="#1d4f7e" stroke-width="1.3"/>
<line x1="410.8" y1="187.5" x2="426.4" y2="187.5" stroke="#f0b682" stroke-width="1.2"/>
<circle cx="418.9" cy="187.5" r="1.6" fill="#fcebd9" stroke="#f0b682" stroke-width="1.1"/>
<text x="0" y="0" font-size="13.3" transform="translate(431.3 178.2) scale(1 1.06)" fill="#1e1e1e">Control</text>
<text x="0" y="0" font-size="13.3" transform="translate(431.3 192.2) scale(1 1.06)" fill="#1e1e1e">Target</text>
<text x="565.2" y="27.4" font-size="18.7" fill="#1e1e1e">c)</text>
<rect x="611.5" y="34.39" width="198.1" height="166.01" fill="none" stroke="#666666" stroke-width="1.35"/>
<line x1="611.5" y1="200.4" x2="604.7" y2="200.4" stroke="#666666" stroke-width="1.35"/>
<line x1="611.5" y1="152.97" x2="604.7" y2="152.97" stroke="#666666" stroke-width="1.35"/>
<line x1="611.5" y1="105.54" x2="604.7" y2="105.54" stroke="#666666" stroke-width="1.35"/>
<line x1="611.5" y1="58.11" x2="604.7" y2="58.11" stroke="#666666" stroke-width="1.35"/>
<line x1="611.5" y1="176.69" x2="608.1" y2="176.69" stroke="#666666" stroke-width="1.35"/>
<line x1="611.5" y1="129.25" x2="608.1" y2="129.25" stroke="#666666" stroke-width="1.35"/>
<line x1="611.5" y1="81.83" x2="608.1" y2="81.83" stroke="#666666" stroke-width="1.35"/>
<line x1="611.5" y1="34.39" x2="608.1" y2="34.39" stroke="#666666" stroke-width="1.35"/>
<text x="0" y="0" font-size="13.6" text-anchor="end" transform="translate(602.9 205.4) scale(1 1.06)" fill="#1e1e1e">0</text>
<text x="0" y="0" font-size="13.6" text-anchor="end" transform="translate(602.9 157.97) scale(1 1.06)" fill="#1e1e1e">10</text>
<text x="0" y="0" font-size="13.6" text-anchor="end" transform="translate(602.9 110.54) scale(1 1.06)" fill="#1e1e1e">20</text>
<text x="0" y="0" font-size="13.6" text-anchor="end" transform="translate(602.9 63.11) scale(1 1.06)" fill="#1e1e1e">30</text>
<rect x="614" y="73.86" width="14.8" height="126.54" fill="#4b7aa2" stroke="none" stroke-width="0"/>
<rect x="628.8" y="73.86" width="14.8" height="126.54" fill="#c24e5f" stroke="none" stroke-width="0"/>
<rect x="643.6" y="73.86" width="14.8" height="126.54" fill="#efb986" stroke="none" stroke-width="0"/>
<rect x="663.6" y="139.83" width="14.8" height="60.57" fill="#4b7aa2" stroke="none" stroke-width="0"/>
<rect x="678.4" y="142.35" width="14.8" height="58.05" fill="#c24e5f" stroke="none" stroke-width="0"/>
<rect x="693.2" y="144.95" width="14.8" height="55.45" fill="#efb986" stroke="none" stroke-width="0"/>
<rect x="713.3" y="168.1" width="14.8" height="32.3" fill="#4b7aa2" stroke="none" stroke-width="0"/>
<rect x="728.1" y="172.56" width="14.8" height="27.84" fill="#c24e5f" stroke="none" stroke-width="0"/>
<rect x="742.9" y="173.03" width="14.8" height="27.37" fill="#efb986" stroke="none" stroke-width="0"/>
<rect x="762.5" y="103.5" width="14.8" height="96.9" fill="#4b7aa2" stroke="none" stroke-width="0"/>
<rect x="777.3" y="95.25" width="14.8" height="105.15" fill="#c24e5f" stroke="none" stroke-width="0"/>
<rect x="792.1" y="90.03" width="14.8" height="110.37" fill="#efb986" stroke="none" stroke-width="0"/>
<rect x="611.5" y="34.39" width="198.1" height="166.01" fill="none" stroke="#666666" stroke-width="1.35"/>
<text x="627.7" y="72.9" font-size="8.5" textLength="17.6" lengthAdjust="spacingAndGlyphs" fill="#1e1e1e">26.68</text>
<text x="660" y="138.7" font-size="8.5" textLength="16.1" lengthAdjust="spacingAndGlyphs" fill="#1e1e1e">12.77</text>
<text x="676.7" y="140.8" font-size="8.5" textLength="16.5" lengthAdjust="spacingAndGlyphs" fill="#1e1e1e">12.24</text>
<text x="693.2" y="146.4" font-size="8.5" textLength="15.8" lengthAdjust="spacingAndGlyphs" fill="#1e1e1e">11.69</text>
<text x="713.6" y="166.8" font-size="8.5" textLength="13.6" lengthAdjust="spacingAndGlyphs" fill="#1e1e1e">6.81</text>
<text x="728.1" y="171.1" font-size="8.5" textLength="14.1" lengthAdjust="spacingAndGlyphs" fill="#1e1e1e">5.87</text>
<text x="743.9" y="172" font-size="8.5" textLength="13.9" lengthAdjust="spacingAndGlyphs" fill="#1e1e1e">5.77</text>
<text x="760" y="102.6" font-size="8.5" textLength="16.5" lengthAdjust="spacingAndGlyphs" fill="#1e1e1e">20.43</text>
<text x="775.8" y="95.1" font-size="8.5" textLength="16.5" lengthAdjust="spacingAndGlyphs" fill="#1e1e1e">22.17</text>
<text x="790.5" y="88.9" font-size="8.5" textLength="17.2" lengthAdjust="spacingAndGlyphs" fill="#1e1e1e">23.27</text>
<rect x="734.9" y="38.6" width="24.8" height="11.5" fill="#4b7aa2" stroke="none" stroke-width="0"/>
<text x="0" y="0" font-size="13.4" transform="translate(763 49.2) scale(1 1.06)" fill="#1e1e1e">Control</text>
<rect x="734.9" y="53.7" width="24.8" height="11.5" fill="#c24e5f" stroke="none" stroke-width="0"/>
<text x="0" y="0" font-size="13.4" transform="translate(763 64.8) scale(1 1.06)" fill="#1e1e1e">Bottom</text>
<rect x="734.9" y="68.9" width="24.8" height="11.5" fill="#efb986" stroke="none" stroke-width="0"/>
<text x="0" y="0" font-size="13.4" transform="translate(763 79.5) scale(1 1.06)" fill="#1e1e1e">Target</text>
<text x="623" y="215" font-size="13.4" fill="#1e1e1e">E<tspan dy="4.6" font-size="8.9">trans</tspan></text>
<text x="673.3" y="215" font-size="13.4" fill="#1e1e1e">E<tspan dy="4.6" font-size="8.9">Voc</tspan></text>
<text x="726.4" y="215" font-size="13.4" fill="#1e1e1e">E<tspan dy="4.6" font-size="8.9">FF</tspan></text>
<text x="775.1" y="215" font-size="13.4" fill="#1e1e1e">E<tspan dy="4.6" font-size="8.9">conv</tspan></text>
<text x="0" y="0" font-size="16.5" text-anchor="middle" transform="translate(581.8 120.6) rotate(-90) scale(1 1.1)" fill="#1e1e1e">Energy Loss (mW cm<tspan dy="-6.5" font-size="10">-2</tspan><tspan dy="6.5">)</tspan></text>
<text x="22.4" y="268.4" font-size="18.7" fill="#1e1e1e">d)</text>
<polygon points="101.3,297.56 167.5,297.56 233.7,297.56 233.7,334.62 167.5,340.12 101.3,348.56" fill="#f4e3b8"/>
<polygon points="101.3,348.56 167.5,340.12 233.7,334.62 233.7,358.2 167.5,365.36 101.3,389.01" fill="#f3c0c0"/>
<polyline points="101.3,297.56 167.5,297.56 233.7,297.56" fill="none" stroke="#eeb27c" stroke-width="1.3" stroke-linejoin="round" stroke-linecap="round"/>
<polyline points="101.3,348.56 167.5,340.12 233.7,334.62" fill="none" stroke="#b73a4c" stroke-width="1.3" stroke-linejoin="round" stroke-linecap="round"/>
<polyline points="101.3,389.01 167.5,365.36 233.7,358.2" fill="none" stroke="#3f6f9c" stroke-width="1.3" stroke-linejoin="round" stroke-linecap="round"/>
<rect x="68.2" y="268.93" width="198.4" height="165.73" fill="none" stroke="#666666" stroke-width="1.35"/>
<line x1="68.2" y1="419.59" x2="61.4" y2="419.59" stroke="#666666" stroke-width="1.35"/>
<line x1="68.2" y1="374.4" x2="61.4" y2="374.4" stroke="#666666" stroke-width="1.35"/>
<line x1="68.2" y1="329.2" x2="61.4" y2="329.2" stroke="#666666" stroke-width="1.35"/>
<line x1="68.2" y1="284" x2="61.4" y2="284" stroke="#666666" stroke-width="1.35"/>
<line x1="68.2" y1="434.66" x2="64.8" y2="434.66" stroke="#666666" stroke-width="1.35"/>
<line x1="68.2" y1="404.53" x2="64.8" y2="404.53" stroke="#666666" stroke-width="1.35"/>
<line x1="68.2" y1="389.46" x2="64.8" y2="389.46" stroke="#666666" stroke-width="1.35"/>
<line x1="68.2" y1="359.33" x2="64.8" y2="359.33" stroke="#666666" stroke-width="1.35"/>
<line x1="68.2" y1="344.26" x2="64.8" y2="344.26" stroke="#666666" stroke-width="1.35"/>
<line x1="68.2" y1="314.13" x2="64.8" y2="314.13" stroke="#666666" stroke-width="1.35"/>
<line x1="68.2" y1="299.07" x2="64.8" y2="299.07" stroke="#666666" stroke-width="1.35"/>
<line x1="68.2" y1="268.93" x2="64.8" y2="268.93" stroke="#666666" stroke-width="1.35"/>
<line x1="101.3" y1="434.66" x2="101.3" y2="441.46" stroke="#666666" stroke-width="1.35"/>
<line x1="167.5" y1="434.66" x2="167.5" y2="441.46" stroke="#666666" stroke-width="1.35"/>
<line x1="233.7" y1="434.66" x2="233.7" y2="441.46" stroke="#666666" stroke-width="1.35"/>
<text x="0" y="0" font-size="13.6" text-anchor="end" transform="translate(59.2 424.59) scale(1 1.06)" fill="#1e1e1e">72</text>
<text x="0" y="0" font-size="13.6" text-anchor="end" transform="translate(59.2 379.4) scale(1 1.06)" fill="#1e1e1e">78</text>
<text x="0" y="0" font-size="13.6" text-anchor="end" transform="translate(59.2 334.2) scale(1 1.06)" fill="#1e1e1e">84</text>
<text x="0" y="0" font-size="13.6" text-anchor="end" transform="translate(59.2 289) scale(1 1.06)" fill="#1e1e1e">90</text>
<text x="0" y="0" font-size="13.4" text-anchor="middle" transform="translate(102.5 453.4) scale(1 1.06)" fill="#1e1e1e">Control</text>
<text x="0" y="0" font-size="13.4" text-anchor="middle" transform="translate(168.7 453.4) scale(1 1.06)" fill="#1e1e1e">Bottom</text>
<text x="0" y="0" font-size="13.4" text-anchor="middle" transform="translate(234.9 453.4) scale(1 1.06)" fill="#1e1e1e">Target</text>
<text x="0" y="0" font-size="16.2" text-anchor="middle" transform="translate(36.1 352.2) rotate(-90) scale(1 1.1)" fill="#1e1e1e">FF (%)</text>
<text x="132.9" y="327.1" font-size="11.1" textLength="89.1" lengthAdjust="spacingAndGlyphs" fill="#1e1e1e">Non-radiative loss</text>
<text x="125" y="356.6" font-size="11.1" textLength="102.4" lengthAdjust="spacingAndGlyphs" fill="#1e1e1e">Charge transpot loss</text>
<text x="74.8" y="352.8" font-size="9.7" textLength="24" lengthAdjust="spacingAndGlyphs" fill="#1e1e1e">81.43</text>
<text x="75.8" y="394.4" font-size="9.7" textLength="23.5" lengthAdjust="spacingAndGlyphs" fill="#1e1e1e">76.06</text>
<text x="235.9" y="336.6" font-size="9.7" textLength="23.9" lengthAdjust="spacingAndGlyphs" fill="#1e1e1e">83.28</text>
<text x="235" y="362.5" font-size="9.7" textLength="24.2" lengthAdjust="spacingAndGlyphs" fill="#1e1e1e">80.15</text>
<line x1="192.8" y1="391.9" x2="207.9" y2="391.9" stroke="#eeb27c" stroke-width="1.3"/>
<text x="211.8" y="396.1" font-size="12.5" fill="#1e1e1e">FF<tspan dy="2.3" font-size="8">SQ-limit</tspan></text>
<line x1="192.8" y1="408.2" x2="207.9" y2="408.2" stroke="#b73a4c" stroke-width="1.3"/>
<text x="211.8" y="412.4" font-size="12.5" fill="#1e1e1e">FF<tspan dy="2.3" font-size="8">max</tspan></text>
<line x1="192.8" y1="423.3" x2="207.9" y2="423.3" stroke="#3f6f9c" stroke-width="1.3"/>
<text x="211.8" y="427.5" font-size="12.5" fill="#1e1e1e">FF<tspan dy="2.3" font-size="8">measured</tspan></text>
<text x="277.4" y="268.5" font-size="18.7" fill="#1e1e1e">e)</text>
<rect x="334.4" y="268.71" width="475.6" height="164.59" fill="none" stroke="#666666" stroke-width="1.35"/>
<line x1="334.4" y1="433.3" x2="327.6" y2="433.3" stroke="#666666" stroke-width="1.35"/>
<line x1="334.4" y1="401.95" x2="327.6" y2="401.95" stroke="#666666" stroke-width="1.35"/>
<line x1="334.4" y1="370.6" x2="327.6" y2="370.6" stroke="#666666" stroke-width="1.35"/>
<line x1="334.4" y1="339.25" x2="327.6" y2="339.25" stroke="#666666" stroke-width="1.35"/>
<line x1="334.4" y1="307.9" x2="327.6" y2="307.9" stroke="#666666" stroke-width="1.35"/>
<line x1="334.4" y1="276.55" x2="327.6" y2="276.55" stroke="#666666" stroke-width="1.35"/>
<line x1="334.4" y1="417.62" x2="331" y2="417.62" stroke="#666666" stroke-width="1.35"/>
<line x1="334.4" y1="386.28" x2="331" y2="386.28" stroke="#666666" stroke-width="1.35"/>
<line x1="334.4" y1="354.93" x2="331" y2="354.93" stroke="#666666" stroke-width="1.35"/>
<line x1="334.4" y1="323.58" x2="331" y2="323.58" stroke="#666666" stroke-width="1.35"/>
<line x1="334.4" y1="292.23" x2="331" y2="292.23" stroke="#666666" stroke-width="1.35"/>
<line x1="334.4" y1="433.3" x2="334.4" y2="440.1" stroke="#666666" stroke-width="1.35"/>
<line x1="429.52" y1="433.3" x2="429.52" y2="440.1" stroke="#666666" stroke-width="1.35"/>
<line x1="524.64" y1="433.3" x2="524.64" y2="440.1" stroke="#666666" stroke-width="1.35"/>
<line x1="619.76" y1="433.3" x2="619.76" y2="440.1" stroke="#666666" stroke-width="1.35"/>
<line x1="714.88" y1="433.3" x2="714.88" y2="440.1" stroke="#666666" stroke-width="1.35"/>
<line x1="810" y1="433.3" x2="810" y2="440.1" stroke="#666666" stroke-width="1.35"/>
<line x1="381.96" y1="433.3" x2="381.96" y2="436.7" stroke="#666666" stroke-width="1.35"/>
<line x1="477.08" y1="433.3" x2="477.08" y2="436.7" stroke="#666666" stroke-width="1.35"/>
<line x1="572.2" y1="433.3" x2="572.2" y2="436.7" stroke="#666666" stroke-width="1.35"/>
<line x1="667.32" y1="433.3" x2="667.32" y2="436.7" stroke="#666666" stroke-width="1.35"/>
<line x1="762.44" y1="433.3" x2="762.44" y2="436.7" stroke="#666666" stroke-width="1.35"/>
<text x="0" y="0" font-size="13.6" text-anchor="end" transform="translate(328 436.5) scale(1 1.06)" fill="#1e1e1e">0%</text>
<text x="0" y="0" font-size="13.6" text-anchor="end" transform="translate(328 405.15) scale(1 1.06)" fill="#1e1e1e">20%</text>
<text x="0" y="0" font-size="13.6" text-anchor="end" transform="translate(328 373.8) scale(1 1.06)" fill="#1e1e1e">40%</text>
<text x="0" y="0" font-size="13.6" text-anchor="end" transform="translate(328 342.45) scale(1 1.06)" fill="#1e1e1e">60%</text>
<text x="0" y="0" font-size="13.6" text-anchor="end" transform="translate(328 311.1) scale(1 1.06)" fill="#1e1e1e">80%</text>
<text x="0" y="0" font-size="13.6" text-anchor="end" transform="translate(328 279.75) scale(1 1.06)" fill="#1e1e1e">100%</text>
<text x="0" y="0" font-size="13.6" text-anchor="middle" transform="translate(335.4 450.8) scale(1 1.06)" fill="#1e1e1e">0</text>
<text x="0" y="0" font-size="13.6" text-anchor="middle" transform="translate(430.52 450.8) scale(1 1.06)" fill="#1e1e1e">200</text>
<text x="0" y="0" font-size="13.6" text-anchor="middle" transform="translate(525.64 450.8) scale(1 1.06)" fill="#1e1e1e">400</text>
<text x="0" y="0" font-size="13.6" text-anchor="middle" transform="translate(620.76 450.8) scale(1 1.06)" fill="#1e1e1e">600</text>
<text x="0" y="0" font-size="13.6" text-anchor="middle" transform="translate(715.88 450.8) scale(1 1.06)" fill="#1e1e1e">800</text>
<text x="0" y="0" font-size="13.6" text-anchor="middle" transform="translate(811 450.8) scale(1 1.06)" fill="#1e1e1e">1000</text>
<text x="576.4" y="464.5" font-size="16.9" text-anchor="middle" fill="#1e1e1e">Time (h)</text>
<text x="0" y="0" font-size="16" text-anchor="middle" transform="translate(293.5 348.8) rotate(-90) scale(1 1.1)" fill="#1e1e1e">Normalized PCE</text>
<polyline points="334.4,276.8 335.99,276.7 337.58,276.61 339.18,276.53 340.77,276.46 342.36,276.42 343.95,276.4 345.54,276.41 347.13,276.43 348.72,276.46 350.32,276.51 351.91,276.57 353.5,276.64 355.09,276.71 356.68,276.8 358.27,276.89 359.86,276.99 361.45,277.09 363.04,277.2 364.63,277.31 366.22,277.42 367.81,277.53 369.4,277.64 371,277.75 372.59,277.86 374.18,277.97 375.77,278.06 377.36,278.16 378.95,278.25 380.54,278.33 382.13,278.4 383.72,278.48 385.31,278.56 386.91,278.64 388.5,278.71 390.09,278.79 391.68,278.87 393.27,278.94 394.86,279.02 396.45,279.09 398.04,279.17 399.64,279.24 401.23,279.32 402.82,279.39 404.41,279.46 406,279.54 407.59,279.61 409.18,279.68 410.78,279.75 412.37,279.83 413.96,279.9 415.55,279.97 417.14,280.04 418.73,280.11 420.33,280.18 421.92,280.25 423.51,280.32 425.1,280.39 426.69,280.46 428.28,280.53 429.87,280.59 431.47,280.66 433.06,280.73 434.65,280.8 436.24,280.86 437.83,280.93 439.42,281 441.02,281.06 442.61,281.13 444.2,281.2 445.79,281.26 447.38,281.33 448.98,281.39 450.57,281.46 452.16,281.52 453.75,281.58 455.34,281.65 456.93,281.71 458.53,281.78 460.12,281.84 461.71,281.9 463.3,281.96 464.89,282.02 466.49,282.09 468.08,282.15 469.67,282.21 471.26,282.27 472.85,282.33 474.45,282.39 476.04,282.45 477.63,282.51 479.22,282.57 480.81,282.63 482.4,282.69 484,282.75 485.59,282.8 487.18,282.86 488.77,282.92 490.37,282.97 491.96,283.03 493.55,283.08 495.14,283.13 496.73,283.19 498.33,283.24 499.92,283.3 501.51,283.35 503.1,283.4 504.7,283.46 506.29,283.51 507.88,283.57 509.47,283.62 511.06,283.68 512.66,283.73 514.25,283.79 515.84,283.85 517.43,283.91 519.02,283.96 520.62,284.02 522.21,284.08 523.8,284.14 525.39,284.2 526.98,284.26 528.58,284.32 530.17,284.38 531.76,284.44 533.35,284.5 534.94,284.56 536.54,284.62 538.13,284.68 539.72,284.74 541.31,284.81 542.9,284.87 544.5,284.93 546.09,285 547.68,285.06 549.27,285.13 550.86,285.2 552.45,285.26 554.05,285.33 555.64,285.4 557.23,285.47 558.82,285.55 560.41,285.62 562,285.69 563.59,285.77 565.18,285.85 566.78,285.93 568.37,286.01 569.96,286.09 571.55,286.18 573.14,286.26 574.73,286.35 576.32,286.44 577.91,286.52 579.5,286.61 581.09,286.7 582.68,286.8 584.27,286.89 585.86,286.98 587.45,287.07 589.04,287.17 590.63,287.26 592.22,287.36 593.82,287.45 595.41,287.55 597,287.64 598.59,287.74 600.18,287.83 601.77,287.93 603.36,288.02 604.95,288.12 606.54,288.21 608.13,288.31 609.72,288.4 611.31,288.5 612.9,288.59 614.49,288.68 616.08,288.78 617.67,288.87 619.26,288.96 620.85,289.05 622.44,289.14 624.03,289.23 625.62,289.32 627.21,289.41 628.8,289.51 630.39,289.6 631.99,289.69 633.58,289.78 635.17,289.88 636.76,289.97 638.35,290.07 639.94,290.16 641.53,290.25 643.12,290.35 644.71,290.44 646.3,290.53 647.89,290.63 649.48,290.72 651.07,290.81 652.66,290.91 654.25,291 655.84,291.09 657.43,291.18 659.02,291.27 660.61,291.36 662.2,291.45 663.79,291.54 665.38,291.63 666.98,291.72 668.57,291.8 670.16,291.89 671.75,291.98 673.34,292.06 674.93,292.14 676.52,292.23 678.11,292.31 679.7,292.39 681.29,292.47 682.88,292.54 684.48,292.62 686.07,292.69 687.66,292.77 689.25,292.84 690.84,292.91 692.43,292.98 694.02,293.05 695.62,293.11 697.21,293.18 698.8,293.25 700.39,293.31 701.98,293.38 703.57,293.44 705.17,293.5 706.76,293.57 708.35,293.63 709.94,293.69 711.53,293.76 713.13,293.82 714.72,293.89 716.31,293.95 717.9,294.01 719.49,294.08 721.09,294.14 722.68,294.21 724.27,294.28 725.86,294.34 727.45,294.41 729.04,294.48 730.64,294.55 732.23,294.63 733.82,294.7 735.41,294.77 737,294.85 738.59,294.93 740.18,295.01 741.77,295.09 743.36,295.17 744.96,295.25 746.55,295.33 748.14,295.42 749.73,295.5 751.32,295.58 752.91,295.67 754.5,295.76 756.1,295.85 757.69,295.94 759.28,296.03 760.87,296.13 762.46,296.22 764.05,296.32 765.64,296.43 767.23,296.53 768.82,296.64 770.4,296.75 771.99,296.87 773.58,296.99 775.17,297.12 776.75,297.24 778.34,297.38 779.92,297.52 781.51,297.67 783.1,297.82 784.68,297.97 786.27,298.13 787.85,298.29 789.43,298.46 791.02,298.64 792.6,298.81 794.18,298.99 795.77,299.18 797.35,299.37 798.93,299.56 800.51,299.76 802.1,299.96 803.68,300.16 805.26,300.36 806.84,300.57 808.42,300.79 810,301" fill="none" stroke="#efb47e" stroke-width="1.3" stroke-linejoin="round" stroke-linecap="round"/>
<polyline points="334.4,276.4 335.83,276.4 337.25,276.41 338.67,276.42 340.09,276.44 341.51,276.46 342.92,276.48 344.33,276.51 345.73,276.63 347.13,276.84 348.53,277.13 349.92,277.45 351.32,277.79 352.71,278.1 354.11,278.37 355.51,278.56 356.91,278.66 358.32,278.76 359.73,278.85 361.14,278.93 362.55,279.01 363.97,279.08 365.38,279.15 366.8,279.21 368.21,279.27 369.63,279.32 371.05,279.38 372.47,279.43 373.89,279.47 375.31,279.52 376.73,279.56 378.15,279.6 379.57,279.64 380.99,279.68 382.41,279.72 383.84,279.76 385.26,279.8 386.68,279.84 388.1,279.88 389.52,279.92 390.95,279.96 392.37,280.01 393.79,280.05 395.21,280.11 396.63,280.16 398.05,280.22 399.46,280.28 400.88,280.34 402.3,280.41 403.72,280.48 405.13,280.55 406.55,280.62 407.97,280.7 409.39,280.78 410.8,280.86 412.22,280.93 413.64,281.01 415.05,281.09 416.47,281.18 417.89,281.26 419.3,281.34 420.72,281.42 422.14,281.49 423.55,281.57 424.97,281.65 426.39,281.72 427.81,281.79 429.22,281.86 430.64,281.93 432.06,282 433.48,282.06 434.89,282.13 436.31,282.19 437.73,282.26 439.15,282.32 440.56,282.38 441.98,282.45 443.4,282.51 444.82,282.57 446.24,282.63 447.65,282.69 449.07,282.75 450.49,282.81 451.91,282.87 453.32,282.93 454.74,282.99 456.16,283.04 457.58,283.1 459,283.16 460.41,283.22 461.83,283.28 463.25,283.33 464.67,283.39 466.09,283.45 467.5,283.5 468.92,283.56 470.34,283.62 471.76,283.67 473.18,283.73 474.59,283.78 476.01,283.84 477.43,283.9 478.85,283.95 480.27,284.01 481.68,284.07 483.1,284.12 484.52,284.18 485.94,284.23 487.36,284.29 488.78,284.34 490.19,284.4 491.61,284.45 493.03,284.51 494.45,284.56 495.87,284.61 497.28,284.67 498.7,284.72 500.12,284.77 501.54,284.83 502.96,284.88 504.37,284.93 505.79,284.98 507.21,285.04 508.63,285.09 510.05,285.14 511.46,285.2 512.88,285.25 514.3,285.3 515.72,285.36 517.14,285.41 518.56,285.46 519.97,285.52 521.39,285.57 522.81,285.62 524.23,285.68 525.65,285.73 527.06,285.79 528.48,285.84 529.9,285.9 531.32,285.95 532.74,286 534.16,286.06 535.57,286.11 536.99,286.16 538.41,286.21 539.83,286.26 541.25,286.31 542.67,286.36 544.08,286.41 545.5,286.46 546.92,286.52 548.34,286.57 549.76,286.63 551.18,286.69 552.59,286.75 554.01,286.81 555.43,286.87 556.85,286.94 558.26,287.01 559.68,287.08 561.09,287.16 562.51,287.24 563.93,287.33 565.34,287.42 566.76,287.52 568.17,287.62 569.59,287.73 571,287.84 572.42,287.95 573.83,288.07 575.24,288.19 576.66,288.32 578.07,288.44 579.49,288.57 580.9,288.7 582.31,288.83 583.73,288.96 585.14,289.1 586.55,289.23 587.97,289.37 589.38,289.5 590.79,289.64 592.21,289.77 593.62,289.91 595.03,290.04 596.45,290.17 597.86,290.3 599.27,290.43 600.69,290.56 602.1,290.69 603.51,290.82 604.93,290.94 606.34,291.07 607.75,291.19 609.17,291.32 610.58,291.44 612,291.57 613.41,291.69 614.82,291.82 616.24,291.94 617.65,292.07 619.07,292.2 620.48,292.32 621.89,292.45 623.31,292.58 624.72,292.71 626.13,292.84 627.55,292.98 628.96,293.11 630.37,293.24 631.79,293.38 633.2,293.52 634.61,293.66 636.02,293.8 637.44,293.94 638.85,294.09 640.26,294.23 641.67,294.38 643.08,294.53 644.49,294.69 645.9,294.84 647.31,295 648.72,295.16 650.13,295.33 651.54,295.49 652.94,295.67 654.35,295.87 655.75,296.09 657.16,296.32 658.56,296.54 659.96,296.76 661.37,296.97 662.77,297.16 664.18,297.32 665.59,297.45 667,297.57 668.41,297.68 669.82,297.79 671.24,297.88 672.65,297.98 674.07,298.06 675.49,298.14 676.9,298.22 678.32,298.3 679.74,298.37 681.16,298.44 682.58,298.51 684,298.57 685.42,298.64 686.84,298.71 688.25,298.78 689.67,298.85 691.09,298.93 692.51,299.01 693.93,299.09 695.34,299.17 696.76,299.27 698.17,299.36 699.59,299.47 701,299.58 702.42,299.69 703.83,299.81 705.25,299.92 706.67,300.05 708.08,300.17 709.5,300.3 710.92,300.43 712.33,300.57 713.75,300.72 715.16,300.87 716.57,301.02 717.98,301.18 719.39,301.35 720.8,301.52 722.2,301.71 723.61,301.9 725.01,302.09 726.4,302.3 727.8,302.53 729.18,302.81 730.56,303.12 731.94,303.45 733.32,303.81 734.7,304.17 736.07,304.54 737.45,304.91 738.83,305.26 740.21,305.6 741.59,305.92 742.98,306.2 744.37,306.45 745.77,306.7 747.17,306.95 748.57,307.18 749.97,307.41 751.37,307.63 752.77,307.83 754.18,308.03 755.59,308.22 757,308.4" fill="none" stroke="#b73a4c" stroke-width="1.3" stroke-linejoin="round" stroke-linecap="round"/>
<polyline points="334.4,276.2 335.36,276.2 336.31,276.21 337.26,276.22 338.21,276.24 339.16,276.25 340.11,276.28 341.05,276.3 341.99,276.33 342.93,276.36 343.87,276.4 344.8,276.45 345.73,276.57 346.65,276.75 347.57,276.96 348.49,277.2 349.41,277.47 350.33,277.75 351.24,278.04 352.16,278.32 353.08,278.58 354,278.82 354.93,279.02 355.86,279.18 356.79,279.3 357.72,279.42 358.66,279.53 359.59,279.64 360.53,279.73 361.47,279.83 362.41,279.92 363.36,280.01 364.3,280.09 365.24,280.17 366.19,280.24 367.13,280.32 368.08,280.39 369.03,280.46 369.97,280.53 370.92,280.6 371.87,280.67 372.81,280.74 373.76,280.81 374.71,280.87 375.65,280.95 376.6,281.02 377.55,281.09 378.49,281.17 379.43,281.25 380.38,281.33 381.32,281.41 382.27,281.49 383.21,281.57 384.16,281.64 385.1,281.72 386.05,281.79 386.99,281.86 387.94,281.93 388.89,282.01 389.83,282.08 390.78,282.16 391.72,282.23 392.67,282.32 393.61,282.4 394.55,282.49 395.49,282.58 396.43,282.68 397.37,282.78 398.31,282.89 399.25,283 400.18,283.12 401.11,283.27 402.04,283.44 402.97,283.64 403.89,283.85 404.81,284.07 405.74,284.3 406.66,284.52 407.59,284.73 408.51,284.93 409.44,285.11 410.37,285.26 411.31,285.4 412.24,285.53 413.18,285.66 414.12,285.79 415.06,285.91 415.99,286.02 416.93,286.14 417.88,286.25 418.82,286.35 419.76,286.46 420.7,286.56 421.64,286.66 422.59,286.76 423.53,286.87 424.47,286.97 425.41,287.07 426.36,287.17 427.3,287.28 428.24,287.39 429.18,287.5 430.12,287.61 431.06,287.73 432,287.85 432.94,287.97 433.88,288.09 434.82,288.21 435.76,288.33 436.69,288.45 437.63,288.57 438.57,288.69 439.51,288.81 440.45,288.93 441.39,289.06 442.33,289.18 443.27,289.3 444.21,289.42 445.15,289.54 446.08,289.67 447.02,289.79 447.96,289.91 448.9,290.03 449.84,290.15 450.78,290.27 451.72,290.39 452.66,290.51 453.6,290.63 454.54,290.74 455.48,290.86 456.42,290.98 457.36,291.1 458.3,291.22 459.24,291.34 460.17,291.46 461.11,291.59 462.05,291.71 462.99,291.84 463.93,291.96 464.87,292.08 465.81,292.21 466.75,292.33 467.69,292.45 468.63,292.57 469.57,292.69 470.51,292.8 471.45,292.91 472.39,293.02 473.33,293.13 474.27,293.24 475.21,293.34 476.15,293.44 477.09,293.53 478.04,293.62 478.98,293.71 479.92,293.79 480.86,293.87 481.81,293.95 482.75,294.02 483.69,294.1 484.64,294.17 485.58,294.24 486.52,294.3 487.47,294.37 488.41,294.43 489.36,294.5 490.3,294.56 491.24,294.62 492.19,294.68 493.13,294.74 494.08,294.79 495.02,294.85 495.97,294.91 496.92,294.96 497.86,295.02 498.81,295.07 499.75,295.12 500.7,295.18 501.64,295.23 502.59,295.28 503.54,295.33 504.48,295.39 505.43,295.44 506.37,295.49 507.32,295.54 508.27,295.59 509.21,295.65 510.16,295.7 511.1,295.75 512.05,295.81 512.99,295.86 513.94,295.92 514.88,295.98 515.83,296.03 516.78,296.09 517.72,296.15 518.67,296.21 519.61,296.27 520.56,296.34 521.5,296.4 522.44,296.46 523.39,296.52 524.33,296.58 525.28,296.64 526.23,296.7 527.17,296.76 528.12,296.82 529.06,296.88 530.01,296.94 530.95,297.01 531.9,297.07 532.84,297.13 533.79,297.19 534.73,297.25 535.68,297.31 536.62,297.37 537.57,297.44 538.51,297.5 539.46,297.56 540.4,297.63 541.35,297.7 542.29,297.76 543.24,297.83 544.18,297.9 545.12,297.97 546.07,298.04 547.01,298.12 547.96,298.19 548.9,298.27 549.84,298.34 550.79,298.42 551.73,298.5 552.67,298.59 553.61,298.67 554.56,298.76 555.5,298.85 556.44,298.94 557.39,299.03 558.33,299.13 559.28,299.23 560.22,299.33 561.17,299.44 562.11,299.56 563.04,299.69 563.97,299.83 564.9,299.98 565.82,300.16 566.73,300.37 567.64,300.62 568.55,300.89 569.45,301.18 570.35,301.5 571.25,301.82 572.15,302.15 573.04,302.47 573.94,302.79 574.84,303.1 575.75,303.39 576.65,303.66 577.57,303.9 578.48,304.11 579.41,304.3 580.33,304.48 581.26,304.65 582.19,304.82 583.13,304.97 584.06,305.12 585,305.27 585.94,305.41 586.88,305.54 587.82,305.68 588.76,305.81 589.71,305.94 590.65,306.08 591.59,306.21 592.53,306.35 593.47,306.49 594.4,306.64 595.34,306.79 596.27,306.96 597.2,307.12 598.13,307.3 599.05,307.49 599.97,307.69 600.88,307.91 601.8,308.13 602.71,308.37 603.62,308.62 604.53,308.88 605.43,309.16 606.34,309.44 607.24,309.73 608.14,310.03 609.04,310.33 609.94,310.65 610.83,310.97 611.73,311.29 612.62,311.62 613.51,311.96 614.4,312.3" fill="none" stroke="#3f6f9c" stroke-width="1.3" stroke-linejoin="round" stroke-linecap="round"/>
<line x1="348" y1="390.7" x2="363" y2="390.7" stroke="#3f6f9c" stroke-width="1.3"/>
<text x="0" y="0" font-size="13.4" transform="translate(367.4 395.6) scale(1 1.06)" fill="#1e1e1e">Control</text>
<line x1="348" y1="405.6" x2="363" y2="405.6" stroke="#b73a4c" stroke-width="1.3"/>
<text x="0" y="0" font-size="13.4" transform="translate(367.4 410.5) scale(1 1.06)" fill="#1e1e1e">Bottom</text>
<line x1="348" y1="420.4" x2="363" y2="420.4" stroke="#efb47e" stroke-width="1.3"/>
<text x="0" y="0" font-size="13.4" transform="translate(367.4 425.3) scale(1 1.06)" fill="#1e1e1e">Target</text>
<text x="22.4" y="488" font-size="18.7" fill="#1e1e1e">f)</text>
<text x="275.3" y="488.3" font-size="18.7" fill="#1e1e1e">g)</text>
<rect x="333.6" y="489.6" width="198" height="166" fill="none" stroke="#666666" stroke-width="1.35"/>
<line x1="333.6" y1="655.6" x2="326.8" y2="655.6" stroke="#666666" stroke-width="1.35"/>
<line x1="333.6" y1="614.1" x2="326.8" y2="614.1" stroke="#666666" stroke-width="1.35"/>
<line x1="333.6" y1="572.6" x2="326.8" y2="572.6" stroke="#666666" stroke-width="1.35"/>
<line x1="333.6" y1="531.1" x2="326.8" y2="531.1" stroke="#666666" stroke-width="1.35"/>
<line x1="333.6" y1="489.6" x2="326.8" y2="489.6" stroke="#666666" stroke-width="1.35"/>
<line x1="333.6" y1="634.85" x2="330.2" y2="634.85" stroke="#666666" stroke-width="1.35"/>
<line x1="333.6" y1="593.35" x2="330.2" y2="593.35" stroke="#666666" stroke-width="1.35"/>
<line x1="333.6" y1="551.85" x2="330.2" y2="551.85" stroke="#666666" stroke-width="1.35"/>
<line x1="333.6" y1="510.35" x2="330.2" y2="510.35" stroke="#666666" stroke-width="1.35"/>
<line x1="333.6" y1="655.6" x2="333.6" y2="662.4" stroke="#666666" stroke-width="1.35"/>
<line x1="378.6" y1="655.6" x2="378.6" y2="662.4" stroke="#666666" stroke-width="1.35"/>
<line x1="423.6" y1="655.6" x2="423.6" y2="662.4" stroke="#666666" stroke-width="1.35"/>
<line x1="468.6" y1="655.6" x2="468.6" y2="662.4" stroke="#666666" stroke-width="1.35"/>
<line x1="513.6" y1="655.6" x2="513.6" y2="662.4" stroke="#666666" stroke-width="1.35"/>
<line x1="356.1" y1="655.6" x2="356.1" y2="659" stroke="#666666" stroke-width="1.35"/>
<line x1="401.1" y1="655.6" x2="401.1" y2="659" stroke="#666666" stroke-width="1.35"/>
<line x1="446.1" y1="655.6" x2="446.1" y2="659" stroke="#666666" stroke-width="1.35"/>
<line x1="491.1" y1="655.6" x2="491.1" y2="659" stroke="#666666" stroke-width="1.35"/>
<text x="0" y="0" font-size="13.6" text-anchor="end" transform="translate(324.3 660.6) scale(1 1.06)" fill="#1e1e1e">0</text>
<text x="0" y="0" font-size="13.6" text-anchor="end" transform="translate(324.3 619.1) scale(1 1.06)" fill="#1e1e1e">10</text>
<text x="0" y="0" font-size="13.6" text-anchor="end" transform="translate(324.3 577.6) scale(1 1.06)" fill="#1e1e1e">20</text>
<text x="0" y="0" font-size="13.6" text-anchor="end" transform="translate(324.3 536.1) scale(1 1.06)" fill="#1e1e1e">30</text>
<text x="0" y="0" font-size="13.6" text-anchor="end" transform="translate(324.3 494.6) scale(1 1.06)" fill="#1e1e1e">40</text>
<text x="0" y="0" font-size="13.6" text-anchor="middle" transform="translate(333.6 673.8) scale(1 1.06)" fill="#1e1e1e">0.0</text>
<text x="0" y="0" font-size="13.6" text-anchor="middle" transform="translate(378.6 673.8) scale(1 1.06)" fill="#1e1e1e">0.5</text>
<text x="0" y="0" font-size="13.6" text-anchor="middle" transform="translate(423.6 673.8) scale(1 1.06)" fill="#1e1e1e">1.0</text>
<text x="0" y="0" font-size="13.6" text-anchor="middle" transform="translate(468.6 673.8) scale(1 1.06)" fill="#1e1e1e">1.5</text>
<text x="0" y="0" font-size="13.6" text-anchor="middle" transform="translate(513.6 673.8) scale(1 1.06)" fill="#1e1e1e">2.0</text>
<text x="431" y="692.5" font-size="16.7" text-anchor="middle" fill="#1e1e1e">Voltage (V)</text>
<text x="0" y="0" font-size="16.2" text-anchor="middle" transform="translate(304.8 579.6) rotate(-90) scale(1 1.1)" fill="#1e1e1e">Current density (mA cm<tspan dy="-6.5" font-size="10">-2</tspan><tspan dy="6.5">)</tspan></text>
<polyline points="333.6,587.3 334.4,587.3 335.2,587.3 335.99,587.31 336.79,587.31 337.59,587.31 338.39,587.31 339.19,587.32 339.99,587.32 340.78,587.32 341.58,587.32 342.38,587.33 343.18,587.33 343.98,587.33 344.78,587.33 345.57,587.34 346.37,587.34 347.17,587.34 347.97,587.34 348.77,587.35 349.56,587.35 350.36,587.35 351.16,587.36 351.96,587.36 352.76,587.36 353.56,587.36 354.35,587.37 355.15,587.37 355.95,587.37 356.75,587.38 357.55,587.38 358.35,587.38 359.14,587.39 359.94,587.39 360.74,587.39 361.54,587.4 362.34,587.4 363.14,587.41 363.93,587.41 364.73,587.41 365.53,587.42 366.33,587.42 367.13,587.42 367.92,587.43 368.72,587.43 369.52,587.43 370.32,587.44 371.12,587.44 371.92,587.45 372.71,587.45 373.51,587.45 374.31,587.46 375.11,587.46 375.91,587.47 376.71,587.47 377.5,587.47 378.3,587.48 379.1,587.48 379.9,587.49 380.7,587.49 381.49,587.5 382.29,587.5 383.09,587.5 383.89,587.51 384.69,587.51 385.49,587.52 386.28,587.52 387.08,587.53 387.88,587.53 388.68,587.53 389.48,587.54 390.28,587.54 391.07,587.55 391.87,587.55 392.67,587.56 393.47,587.56 394.27,587.57 395.06,587.57 395.86,587.58 396.66,587.58 397.46,587.59 398.26,587.59 399.06,587.59 399.85,587.6 400.65,587.6 401.45,587.61 402.25,587.61 403.05,587.62 403.85,587.62 404.64,587.63 405.44,587.63 406.24,587.64 407.04,587.64 407.84,587.65 408.63,587.65 409.43,587.66 410.23,587.66 411.03,587.67 411.83,587.67 412.63,587.68 413.42,587.68 414.22,587.69 415.02,587.69 415.82,587.7 416.62,587.7 417.42,587.71 418.21,587.71 419.01,587.72 419.81,587.72 420.61,587.73 421.41,587.73 422.21,587.74 423,587.74 423.8,587.75 424.6,587.75 425.4,587.76 426.2,587.77 426.99,587.77 427.79,587.78 428.59,587.78 429.39,587.79 430.19,587.8 430.99,587.8 431.78,587.81 432.58,587.81 433.38,587.82 434.18,587.83 434.98,587.83 435.78,587.84 436.57,587.85 437.37,587.85 438.17,587.86 438.97,587.87 439.77,587.88 440.56,587.88 441.36,587.89 442.16,587.9 442.96,587.91 443.76,587.91 444.56,587.92 445.35,587.93 446.15,587.94 446.95,587.95 447.75,587.95 448.55,587.96 449.34,587.97 450.14,587.98 450.94,587.99 451.74,588 452.54,588.01 453.34,588.02 454.13,588.03 454.93,588.04 455.73,588.05 456.53,588.06 457.33,588.07 458.12,588.08 458.92,588.09 459.72,588.1 460.52,588.11 461.32,588.12 462.12,588.13 462.92,588.14 463.72,588.15 464.52,588.16 465.32,588.17 466.12,588.18 466.92,588.2 467.72,588.21 468.52,588.22 469.32,588.24 470.12,588.25 470.93,588.26 471.73,588.28 472.53,588.3 473.33,588.31 474.13,588.33 474.93,588.35 475.73,588.37 476.53,588.39 477.33,588.41 478.13,588.43 478.93,588.45 479.72,588.48 480.52,588.51 481.32,588.53 482.11,588.56 482.9,588.59 483.7,588.62 484.49,588.65 485.28,588.69 486.07,588.72 486.86,588.76 487.65,588.8 488.44,588.85 489.23,588.91 490.03,589 490.83,589.11 491.63,589.23 492.43,589.37 493.22,589.52 494.02,589.69 494.81,589.87 495.6,590.06 496.39,590.26 497.17,590.47 497.94,590.69 498.7,590.92 499.46,591.16 500.21,591.4 500.94,591.64 501.67,591.89 502.41,592.18 503.15,592.5 503.91,592.86 504.65,593.24 505.39,593.65 506.11,594.09 506.8,594.55 507.45,595.03 508.07,595.52 508.64,596.03 509.15,596.55 509.62,597.08 510.07,597.66 510.51,598.28 510.93,598.92 511.33,599.6 511.72,600.31 512.1,601.03 512.46,601.78 512.8,602.54 513.14,603.31 513.46,604.09 513.77,604.87 514.06,605.65 514.35,606.43 514.62,607.2 514.88,607.95 515.13,608.7 515.38,609.45 515.61,610.2 515.84,610.96 516.06,611.72 516.27,612.48 516.47,613.25 516.67,614.03 516.87,614.8 517.06,615.58 517.24,616.36 517.42,617.14 517.6,617.92 517.78,618.71 517.95,619.5 518.12,620.28 518.28,621.07 518.45,621.85 518.61,622.64 518.78,623.43 518.94,624.21 519.11,624.99 519.27,625.77 519.44,626.55 519.6,627.33 519.77,628.11 519.93,628.9 520.1,629.68 520.26,630.46 520.42,631.24 520.58,632.02 520.74,632.8 520.9,633.58 521.05,634.37 521.21,635.15 521.36,635.93 521.52,636.71 521.67,637.5 521.82,638.28 521.97,639.07 522.12,639.85 522.27,640.63 522.41,641.42 522.56,642.2 522.7,642.99 522.85,643.78 522.99,644.56 523.13,645.35 523.26,646.13 523.4,646.92 523.54,647.71 523.67,648.5 523.8,649.28 523.93,650.07 524.06,650.86 524.19,651.65 524.31,652.44 524.44,653.23 524.56,654.02 524.68,654.81 524.8,655.6" fill="none" stroke="#eeb27c" stroke-width="1.4" stroke-linejoin="round" stroke-linecap="round"/>
<polyline points="333.6,580.1 334.19,580.1 334.78,580.11 335.37,580.11 335.96,580.12 336.56,580.12 337.15,580.13 337.74,580.13 338.33,580.14 338.92,580.14 339.51,580.14 340.1,580.15 340.69,580.15 341.29,580.16 341.88,580.16 342.47,580.17 343.06,580.17 343.65,580.18 344.24,580.18 344.83,580.19 345.42,580.19 346.01,580.19 346.61,580.2 347.2,580.2 347.79,580.21 348.38,580.21 348.97,580.22 349.56,580.22 350.15,580.23 350.74,580.23 351.34,580.23 351.93,580.24 352.52,580.24 353.11,580.25 353.7,580.25 354.29,580.26 354.88,580.26 355.47,580.27 356.07,580.27 356.66,580.27 357.25,580.28 357.84,580.28 358.43,580.29 359.02,580.29 359.61,580.3 360.2,580.3 360.79,580.31 361.39,580.31 361.98,580.31 362.57,580.32 363.16,580.32 363.75,580.33 364.34,580.33 364.93,580.34 365.52,580.34 366.12,580.34 366.71,580.35 367.3,580.35 367.89,580.36 368.48,580.36 369.07,580.36 369.66,580.37 370.25,580.37 370.85,580.38 371.44,580.38 372.03,580.38 372.62,580.39 373.21,580.39 373.8,580.39 374.39,580.4 374.98,580.4 375.57,580.41 376.17,580.41 376.76,580.41 377.35,580.42 377.94,580.42 378.53,580.43 379.12,580.43 379.71,580.43 380.3,580.44 380.9,580.44 381.49,580.45 382.08,580.45 382.67,580.45 383.26,580.46 383.85,580.46 384.44,580.47 385.03,580.47 385.62,580.47 386.22,580.48 386.81,580.48 387.4,580.49 387.99,580.49 388.58,580.5 389.17,580.5 389.76,580.51 390.35,580.51 390.95,580.52 391.54,580.52 392.13,580.53 392.72,580.53 393.31,580.54 393.9,580.54 394.49,580.55 395.08,580.55 395.68,580.56 396.27,580.56 396.86,580.57 397.45,580.57 398.04,580.58 398.63,580.59 399.22,580.59 399.81,580.6 400.4,580.6 401,580.61 401.59,580.62 402.18,580.62 402.77,580.63 403.36,580.63 403.96,580.64 404.55,580.64 405.14,580.65 405.73,580.65 406.33,580.66 406.92,580.66 407.51,580.67 408.11,580.68 408.7,580.68 409.29,580.69 409.89,580.69 410.48,580.7 411.07,580.71 411.66,580.71 412.26,580.72 412.85,580.73 413.44,580.74 414.03,580.74 414.63,580.75 415.22,580.76 415.81,580.77 416.4,580.78 416.99,580.79 417.58,580.8 418.17,580.81 418.76,580.83 419.35,580.84 419.94,580.85 420.53,580.87 421.12,580.88 421.71,580.9 422.3,580.91 422.89,580.93 423.47,580.95 424.06,580.97 424.64,580.99 425.23,581.01 425.82,581.05 426.41,581.1 427,581.18 427.59,581.27 428.19,581.37 428.77,581.49 429.36,581.61 429.94,581.75 430.51,581.89 431.08,582.04 431.64,582.2 432.19,582.36 432.75,582.54 433.33,582.76 433.9,583.01 434.47,583.28 435.02,583.58 435.54,583.89 436.04,584.22 436.5,584.56 436.9,584.91 437.27,585.27 437.61,585.67 437.95,586.1 438.28,586.55 438.59,587.03 438.89,587.53 439.18,588.06 439.46,588.6 439.73,589.15 439.99,589.72 440.24,590.29 440.49,590.87 440.72,591.46 440.95,592.05 441.16,592.63 441.38,593.21 441.58,593.78 441.78,594.34 441.97,594.9 442.15,595.45 442.34,596 442.52,596.56 442.69,597.12 442.86,597.68 443.03,598.24 443.2,598.81 443.36,599.38 443.51,599.95 443.67,600.52 443.82,601.1 443.97,601.68 444.11,602.25 444.25,602.83 444.39,603.41 444.52,603.99 444.65,604.57 444.78,605.16 444.91,605.74 445.03,606.32 445.15,606.9 445.27,607.49 445.38,608.07 445.5,608.65 445.6,609.23 445.71,609.81 445.82,610.39 445.92,610.97 446.02,611.55 446.12,612.13 446.21,612.71 446.31,613.3 446.4,613.88 446.49,614.46 446.58,615.05 446.67,615.63 446.76,616.21 446.84,616.8 446.93,617.38 447.01,617.97 447.09,618.56 447.17,619.14 447.25,619.73 447.33,620.32 447.41,620.9 447.48,621.49 447.56,622.08 447.63,622.66 447.7,623.25 447.78,623.84 447.85,624.43 447.92,625.02 447.99,625.6 448.06,626.19 448.13,626.78 448.2,627.37 448.27,627.96 448.33,628.54 448.4,629.13 448.47,629.72 448.54,630.31 448.61,630.9 448.67,631.48 448.74,632.07 448.81,632.66 448.88,633.24 448.94,633.83 449.01,634.42 449.08,635.01 449.14,635.59 449.21,636.18 449.27,636.77 449.34,637.36 449.4,637.94 449.46,638.53 449.53,639.12 449.59,639.71 449.65,640.29 449.72,640.88 449.78,641.47 449.84,642.06 449.9,642.65 449.96,643.23 450.02,643.82 450.08,644.41 450.14,645 450.19,645.59 450.25,646.18 450.31,646.76 450.37,647.35 450.42,647.94 450.48,648.53 450.53,649.12 450.59,649.71 450.64,650.3 450.69,650.89 450.75,651.47 450.8,652.06 450.85,652.65 450.9,653.24 450.95,653.83 451,654.42 451.05,655.01 451.1,655.6" fill="none" stroke="#3f6f9c" stroke-width="1.4" stroke-linejoin="round" stroke-linecap="round"/>
<polyline points="333.6,516.6 334.28,516.61 334.95,516.62 335.63,516.63 336.3,516.63 336.98,516.64 337.66,516.65 338.33,516.66 339.01,516.67 339.68,516.68 340.36,516.69 341.03,516.7 341.71,516.71 342.39,516.72 343.06,516.73 343.74,516.74 344.41,516.75 345.09,516.76 345.77,516.77 346.44,516.78 347.12,516.79 347.79,516.8 348.47,516.81 349.14,516.82 349.82,516.83 350.5,516.84 351.17,516.85 351.85,516.86 352.52,516.87 353.2,516.89 353.88,516.9 354.55,516.91 355.23,516.92 355.9,516.93 356.58,516.94 357.25,516.95 357.93,516.96 358.61,516.98 359.28,516.99 359.96,517 360.63,517.01 361.31,517.02 361.99,517.03 362.66,517.04 363.34,517.06 364.01,517.07 364.69,517.08 365.36,517.09 366.04,517.1 366.72,517.11 367.39,517.12 368.07,517.13 368.74,517.14 369.42,517.15 370.1,517.17 370.77,517.18 371.45,517.19 372.12,517.2 372.8,517.22 373.48,517.23 374.15,517.25 374.83,517.26 375.5,517.28 376.18,517.29 376.85,517.31 377.53,517.33 378.2,517.35 378.88,517.37 379.56,517.39 380.23,517.41 380.91,517.43 381.58,517.45 382.26,517.48 382.94,517.51 383.62,517.54 384.29,517.57 384.97,517.6 385.65,517.64 386.32,517.68 387,517.72 387.67,517.77 388.34,517.82 389.02,517.87 389.69,517.93 390.35,518 391.02,518.07 391.7,518.16 392.38,518.28 393.06,518.41 393.73,518.56 394.39,518.73 395.03,518.92 395.66,519.12 396.26,519.34 396.87,519.64 397.48,519.99 398.06,520.39 398.61,520.83 399.1,521.29 399.53,521.75 399.92,522.27 400.29,522.84 400.62,523.45 400.93,524.08 401.22,524.7 401.5,525.32 401.75,525.94 402,526.56 402.24,527.2 402.47,527.84 402.68,528.48 402.89,529.13 403.08,529.78 403.27,530.44 403.45,531.09 403.61,531.74 403.77,532.39 403.91,533.05 404.05,533.71 404.19,534.38 404.32,535.04 404.44,535.71 404.57,536.37 404.69,537.04 404.81,537.71 404.93,538.37 405.05,539.04 405.17,539.7 405.29,540.37 405.41,541.03 405.53,541.7 405.64,542.36 405.76,543.03 405.87,543.7 405.97,544.37 406.08,545.03 406.18,545.7 406.28,546.37 406.38,547.04 406.47,547.71 406.57,548.38 406.67,549.05 406.76,549.72 406.85,550.39 406.94,551.06 407.03,551.73 407.12,552.4 407.21,553.07 407.29,553.74 407.37,554.41 407.44,555.08 407.52,555.75 407.59,556.43 407.65,557.1 407.72,557.77 407.78,558.44 407.83,559.11 407.89,559.79 407.95,560.46 408.01,561.13 408.06,561.8 408.12,562.48 408.17,563.15 408.22,563.82 408.28,564.5 408.33,565.17 408.38,565.84 408.43,566.52 408.48,567.19 408.53,567.87 408.57,568.54 408.62,569.21 408.67,569.89 408.71,570.56 408.76,571.24 408.8,571.91 408.85,572.58 408.89,573.26 408.94,573.93 408.98,574.61 409.02,575.28 409.06,575.96 409.1,576.63 409.14,577.31 409.19,577.98 409.23,578.66 409.27,579.33 409.3,580.01 409.34,580.68 409.38,581.36 409.42,582.03 409.46,582.71 409.5,583.38 409.54,584.06 409.57,584.73 409.61,585.41 409.65,586.08 409.68,586.76 409.72,587.44 409.76,588.11 409.79,588.79 409.83,589.46 409.87,590.14 409.9,590.81 409.94,591.49 409.98,592.16 410.01,592.84 410.05,593.51 410.09,594.19 410.12,594.86 410.16,595.54 410.2,596.21 410.24,596.89 410.27,597.56 410.31,598.24 410.35,598.92 410.39,599.59 410.42,600.27 410.46,600.94 410.5,601.62 410.54,602.29 410.58,602.97 410.62,603.64 410.66,604.31 410.7,604.99 410.74,605.66 410.78,606.34 410.82,607.01 410.86,607.69 410.9,608.36 410.94,609.04 410.98,609.71 411.02,610.39 411.06,611.06 411.1,611.74 411.14,612.41 411.18,613.09 411.22,613.76 411.26,614.44 411.3,615.11 411.34,615.78 411.38,616.46 411.42,617.13 411.46,617.81 411.5,618.48 411.54,619.16 411.58,619.83 411.62,620.51 411.66,621.18 411.7,621.86 411.74,622.53 411.78,623.21 411.82,623.88 411.86,624.56 411.9,625.23 411.93,625.91 411.97,626.58 412.01,627.26 412.05,627.93 412.09,628.61 412.13,629.28 412.17,629.96 412.21,630.63 412.25,631.3 412.28,631.98 412.32,632.65 412.36,633.33 412.4,634 412.44,634.68 412.48,635.35 412.51,636.03 412.55,636.7 412.59,637.38 412.63,638.05 412.67,638.73 412.7,639.4 412.74,640.08 412.78,640.75 412.82,641.43 412.86,642.1 412.89,642.78 412.93,643.45 412.97,644.13 413.01,644.8 413.04,645.48 413.08,646.15 413.12,646.83 413.16,647.5 413.19,648.18 413.23,648.85 413.27,649.53 413.31,650.2 413.34,650.88 413.38,651.55 413.42,652.23 413.45,652.9 413.49,653.58 413.53,654.25 413.56,654.93 413.6,655.6" fill="none" stroke="#a8384c" stroke-width="1.5" stroke-linejoin="round" stroke-linecap="round"/>
<line x1="437.2" y1="501" x2="451.1" y2="501" stroke="#b73a4c" stroke-width="1.1"/>
<text x="0" y="0" font-size="13.8" transform="translate(456.7 504.3) scale(1 1.06)" fill="#1e1e1e">NBG</text>
<line x1="437.2" y1="514.7" x2="451.1" y2="514.7" stroke="#3f6f9c" stroke-width="1.1"/>
<text x="0" y="0" font-size="13.8" transform="translate(456.7 518.4) scale(1 1.06)" fill="#1e1e1e">WBG</text>
<line x1="437.2" y1="529.4" x2="451.1" y2="529.4" stroke="#eeb27c" stroke-width="1.1"/>
<text x="0" y="0" font-size="13.8" transform="translate(456.7 533.4) scale(1 1.06)" fill="#1e1e1e">2T tandem</text>
<text x="558.1" y="488" font-size="18.7" fill="#1e1e1e">h)</text>
<rect x="611.13" y="489.6" width="198.37" height="165.9" fill="none" stroke="#666666" stroke-width="1.35"/>
<line x1="611.13" y1="655.5" x2="604.33" y2="655.5" stroke="#666666" stroke-width="1.35"/>
<line x1="611.13" y1="622.32" x2="604.33" y2="622.32" stroke="#666666" stroke-width="1.35"/>
<line x1="611.13" y1="589.14" x2="604.33" y2="589.14" stroke="#666666" stroke-width="1.35"/>
<line x1="611.13" y1="555.96" x2="604.33" y2="555.96" stroke="#666666" stroke-width="1.35"/>
<line x1="611.13" y1="522.78" x2="604.33" y2="522.78" stroke="#666666" stroke-width="1.35"/>
<line x1="611.13" y1="489.6" x2="604.33" y2="489.6" stroke="#666666" stroke-width="1.35"/>
<line x1="611.13" y1="638.91" x2="607.73" y2="638.91" stroke="#666666" stroke-width="1.35"/>
<line x1="611.13" y1="605.73" x2="607.73" y2="605.73" stroke="#666666" stroke-width="1.35"/>
<line x1="611.13" y1="572.55" x2="607.73" y2="572.55" stroke="#666666" stroke-width="1.35"/>
<line x1="611.13" y1="539.37" x2="607.73" y2="539.37" stroke="#666666" stroke-width="1.35"/>
<line x1="611.13" y1="506.19" x2="607.73" y2="506.19" stroke="#666666" stroke-width="1.35"/>
<line x1="642.47" y1="655.5" x2="642.47" y2="662.3" stroke="#666666" stroke-width="1.35"/>
<line x1="692.61" y1="655.5" x2="692.61" y2="662.3" stroke="#666666" stroke-width="1.35"/>
<line x1="742.75" y1="655.5" x2="742.75" y2="662.3" stroke="#666666" stroke-width="1.35"/>
<line x1="792.89" y1="655.5" x2="792.89" y2="662.3" stroke="#666666" stroke-width="1.35"/>
<line x1="617.4" y1="655.5" x2="617.4" y2="658.9" stroke="#666666" stroke-width="1.35"/>
<line x1="667.54" y1="655.5" x2="667.54" y2="658.9" stroke="#666666" stroke-width="1.35"/>
<line x1="717.68" y1="655.5" x2="717.68" y2="658.9" stroke="#666666" stroke-width="1.35"/>
<line x1="767.82" y1="655.5" x2="767.82" y2="658.9" stroke="#666666" stroke-width="1.35"/>
<text x="0" y="0" font-size="13.6" text-anchor="end" transform="translate(598 660.5) scale(1 1.06)" fill="#1e1e1e">0</text>
<text x="0" y="0" font-size="13.6" text-anchor="end" transform="translate(598 627.32) scale(1 1.06)" fill="#1e1e1e">20</text>
<text x="0" y="0" font-size="13.6" text-anchor="end" transform="translate(598 594.14) scale(1 1.06)" fill="#1e1e1e">40</text>
<text x="0" y="0" font-size="13.6" text-anchor="end" transform="translate(598 560.96) scale(1 1.06)" fill="#1e1e1e">60</text>
<text x="0" y="0" font-size="13.6" text-anchor="end" transform="translate(598 527.78) scale(1 1.06)" fill="#1e1e1e">80</text>
<text x="0" y="0" font-size="13.6" text-anchor="end" transform="translate(598 494.6) scale(1 1.06)" fill="#1e1e1e">100</text>
<text x="0" y="0" font-size="13.6" text-anchor="middle" transform="translate(642.47 675.1) scale(1 1.06)" fill="#1e1e1e">400</text>
<text x="0" y="0" font-size="13.6" text-anchor="middle" transform="translate(692.61 675.1) scale(1 1.06)" fill="#1e1e1e">600</text>
<text x="0" y="0" font-size="13.6" text-anchor="middle" transform="translate(742.75 675.1) scale(1 1.06)" fill="#1e1e1e">800</text>
<text x="0" y="0" font-size="13.6" text-anchor="middle" transform="translate(792.89 675.1) scale(1 1.06)" fill="#1e1e1e">1000</text>
<text x="716.2" y="692.4" font-size="16.6" text-anchor="middle" fill="#1e1e1e">Wavelength (nm)</text>
<text x="0" y="0" font-size="16.2" text-anchor="middle" transform="translate(577.4 571.3) rotate(-90) scale(1 1.1)" fill="#1e1e1e">EQE (%)</text>
<text x="0" y="0" font-size="13.4" text-anchor="middle" transform="translate(662.6 564.9) scale(1 1.06)" fill="#1e1e1e">WBG</text>
<text x="0" y="0" font-size="13.4" text-anchor="middle" transform="translate(663 583.1) scale(1 1.06)" fill="#1e1e1e">16.28</text>
<text x="0" y="0" font-size="13.4" text-anchor="middle" transform="translate(755.9 564.9) scale(1 1.06)" fill="#1e1e1e">NBG</text>
<text x="0" y="0" font-size="13.4" text-anchor="middle" transform="translate(756.1 583.1) scale(1 1.06)" fill="#1e1e1e">16.23</text>
<polyline points="612.39,653.84 614.89,654.17 617.4,653.84 619.91,654.33 622.41,654.17 624.92,653.92 627.43,653.72 629.93,653.68 632.44,653.82 634.95,654.07 637.46,654.28 639.96,654.33 642.47,654.21 644.98,653.97 647.48,653.75 649.99,653.68 652.5,653.79 655,654.03 657.51,654.25 660.02,654.34 662.53,654.24 665.03,654.01 667.54,653.76 670.05,653.51 672.55,652.85 675.06,651.52 677.57,650.19 680.07,648.7 682.58,647.21 685.09,645.55 687.6,643.89 690.1,641.9 692.61,640.24 695.12,638.41 697.62,636.75 700.13,634.93 702.64,632.94 705.55,630.12 708.05,629.45 710.41,627.46 712.89,616.85 715.4,588.64 717.98,553.47 720.39,530.25 722.39,519.63 725.5,523.11 727.61,519.63 729.99,515.81 732.72,518.96 734.8,515.81 737.23,513.66 740.12,514.32 743.1,512.83 745.91,513.66 748.52,511.17 750.27,506.19 753.28,505.53 756.29,505.03 758.79,503.54 761.18,501.54 762.98,500.22 765.31,501.21 767.74,503.2 770.13,504.7 772.53,506.19 775.52,507.35 777.92,511 780.33,515.15 781.92,515.31 783.51,515.48 786.2,556.96 788.6,577.53 790.91,602.74 793.72,610.38 796.02,633.77 798.73,640.57 801.04,648.53 804.05,651.85 807.05,653.68 808.63,654.17" fill="none" stroke="#b52a40" stroke-width="1.1" stroke-linejoin="round" stroke-linecap="round"/>
<polyline points="612.39,649.2 614.89,629.62 617.15,532.4 619.15,524.11 621.16,522.45 622.79,520.79 624.8,518.8 626.5,517.14 627.8,516.14 629.43,520.13 631.94,523.11 634.95,524.11 637.21,520.13 639.46,513.82 641.89,514.82 644.48,513.16 647.23,514.49 649.74,515.15 652.4,515.15 654.75,513.49 657.01,510.01 659.77,511.33 662.28,510.17 665.03,507.85 667.54,505.53 669.8,507.52 672.8,506.02 675.56,507.85 677.49,511.66 680.07,513.49 682.73,515.15 685.34,518.13 687.6,522.12 690.35,523.44 692.23,525.93 694.62,528.42 697.12,530.74 699.88,531.9 702.51,533.73 705.14,532.57 707.8,535.89 710.41,537.55 713.17,550.98 715.4,582.34 718.11,620 720.29,647.87 722.69,652.35 725.2,654.67 727.71,654.67 730.21,654.67 732.72,654.67 735.23,654.67 737.74,654.67 740.24,654.67 742.75,654.67 745.26,654.67 747.76,654.67 750.27,654.67 752.78,654.67 755.28,654.67 757.79,653.68 760.3,654.67 762.81,654.67 765.31,654.67 767.82,654.67 770.33,654.67 772.83,654.67 775.34,654.67 777.85,654.67 780.36,654.67 782.86,654.67 785.37,654.67 787.88,654.67 790.38,654.67 792.89,654.67 795.4,654.67 797.9,654.67 800.41,654.67 802.92,654.67 805.42,654.67 807.93,654.67" fill="none" stroke="#2f6596" stroke-width="1.1" stroke-linejoin="round" stroke-linecap="round"/>
<circle cx="612.39" cy="653.84" r="1.5" fill="#f4c9cf" stroke="#b52a40" stroke-width="1.35"/>
<circle cx="614.89" cy="654.17" r="1.5" fill="#f4c9cf" stroke="#b52a40" stroke-width="1.35"/>
<circle cx="617.4" cy="653.84" r="1.5" fill="#f4c9cf" stroke="#b52a40" stroke-width="1.35"/>
<circle cx="619.91" cy="654.33" r="1.5" fill="#f4c9cf" stroke="#b52a40" stroke-width="1.35"/>
<circle cx="622.41" cy="654.17" r="1.5" fill="#f4c9cf" stroke="#b52a40" stroke-width="1.35"/>
<circle cx="624.92" cy="653.92" r="1.5" fill="#f4c9cf" stroke="#b52a40" stroke-width="1.35"/>
<circle cx="627.43" cy="653.72" r="1.5" fill="#f4c9cf" stroke="#b52a40" stroke-width="1.35"/>
<circle cx="629.93" cy="653.68" r="1.5" fill="#f4c9cf" stroke="#b52a40" stroke-width="1.35"/>
<circle cx="632.44" cy="653.82" r="1.5" fill="#f4c9cf" stroke="#b52a40" stroke-width="1.35"/>
<circle cx="634.95" cy="654.07" r="1.5" fill="#f4c9cf" stroke="#b52a40" stroke-width="1.35"/>
<circle cx="637.46" cy="654.28" r="1.5" fill="#f4c9cf" stroke="#b52a40" stroke-width="1.35"/>
<circle cx="639.96" cy="654.33" r="1.5" fill="#f4c9cf" stroke="#b52a40" stroke-width="1.35"/>
<circle cx="642.47" cy="654.21" r="1.5" fill="#f4c9cf" stroke="#b52a40" stroke-width="1.35"/>
<circle cx="644.98" cy="653.97" r="1.5" fill="#f4c9cf" stroke="#b52a40" stroke-width="1.35"/>
<circle cx="647.48" cy="653.75" r="1.5" fill="#f4c9cf" stroke="#b52a40" stroke-width="1.35"/>
<circle cx="649.99" cy="653.68" r="1.5" fill="#f4c9cf" stroke="#b52a40" stroke-width="1.35"/>
<circle cx="652.5" cy="653.79" r="1.5" fill="#f4c9cf" stroke="#b52a40" stroke-width="1.35"/>
<circle cx="655" cy="654.03" r="1.5" fill="#f4c9cf" stroke="#b52a40" stroke-width="1.35"/>
<circle cx="657.51" cy="654.25" r="1.5" fill="#f4c9cf" stroke="#b52a40" stroke-width="1.35"/>
<circle cx="660.02" cy="654.34" r="1.5" fill="#f4c9cf" stroke="#b52a40" stroke-width="1.35"/>
<circle cx="662.53" cy="654.24" r="1.5" fill="#f4c9cf" stroke="#b52a40" stroke-width="1.35"/>
<circle cx="665.03" cy="654.01" r="1.5" fill="#f4c9cf" stroke="#b52a40" stroke-width="1.35"/>
<circle cx="667.54" cy="653.76" r="1.5" fill="#f4c9cf" stroke="#b52a40" stroke-width="1.35"/>
<circle cx="670.05" cy="653.51" r="1.5" fill="#f4c9cf" stroke="#b52a40" stroke-width="1.35"/>
<circle cx="672.55" cy="652.85" r="1.5" fill="#f4c9cf" stroke="#b52a40" stroke-width="1.35"/>
<circle cx="675.06" cy="651.52" r="1.5" fill="#f4c9cf" stroke="#b52a40" stroke-width="1.35"/>
<circle cx="677.57" cy="650.19" r="1.5" fill="#f4c9cf" stroke="#b52a40" stroke-width="1.35"/>
<circle cx="680.07" cy="648.7" r="1.5" fill="#f4c9cf" stroke="#b52a40" stroke-width="1.35"/>
<circle cx="682.58" cy="647.21" r="1.5" fill="#f4c9cf" stroke="#b52a40" stroke-width="1.35"/>
<circle cx="685.09" cy="645.55" r="1.5" fill="#f4c9cf" stroke="#b52a40" stroke-width="1.35"/>
<circle cx="687.6" cy="643.89" r="1.5" fill="#f4c9cf" stroke="#b52a40" stroke-width="1.35"/>
<circle cx="690.1" cy="641.9" r="1.5" fill="#f4c9cf" stroke="#b52a40" stroke-width="1.35"/>
<circle cx="692.61" cy="640.24" r="1.5" fill="#f4c9cf" stroke="#b52a40" stroke-width="1.35"/>
<circle cx="695.12" cy="638.41" r="1.5" fill="#f4c9cf" stroke="#b52a40" stroke-width="1.35"/>
<circle cx="697.62" cy="636.75" r="1.5" fill="#f4c9cf" stroke="#b52a40" stroke-width="1.35"/>
<circle cx="700.13" cy="634.93" r="1.5" fill="#f4c9cf" stroke="#b52a40" stroke-width="1.35"/>
<circle cx="702.64" cy="632.94" r="1.5" fill="#f4c9cf" stroke="#b52a40" stroke-width="1.35"/>
<circle cx="705.55" cy="630.12" r="1.5" fill="#f4c9cf" stroke="#b52a40" stroke-width="1.35"/>
<circle cx="708.05" cy="629.45" r="1.5" fill="#f4c9cf" stroke="#b52a40" stroke-width="1.35"/>
<circle cx="710.41" cy="627.46" r="1.5" fill="#f4c9cf" stroke="#b52a40" stroke-width="1.35"/>
<circle cx="712.89" cy="616.85" r="1.5" fill="#f4c9cf" stroke="#b52a40" stroke-width="1.35"/>
<circle cx="715.4" cy="588.64" r="1.5" fill="#f4c9cf" stroke="#b52a40" stroke-width="1.35"/>
<circle cx="717.98" cy="553.47" r="1.5" fill="#f4c9cf" stroke="#b52a40" stroke-width="1.35"/>
<circle cx="720.39" cy="530.25" r="1.5" fill="#f4c9cf" stroke="#b52a40" stroke-width="1.35"/>
<circle cx="722.39" cy="519.63" r="1.5" fill="#f4c9cf" stroke="#b52a40" stroke-width="1.35"/>
<circle cx="725.5" cy="523.11" r="1.5" fill="#f4c9cf" stroke="#b52a40" stroke-width="1.35"/>
<circle cx="727.61" cy="519.63" r="1.5" fill="#f4c9cf" stroke="#b52a40" stroke-width="1.35"/>
<circle cx="729.99" cy="515.81" r="1.5" fill="#f4c9cf" stroke="#b52a40" stroke-width="1.35"/>
<circle cx="732.72" cy="518.96" r="1.5" fill="#f4c9cf" stroke="#b52a40" stroke-width="1.35"/>
<circle cx="734.8" cy="515.81" r="1.5" fill="#f4c9cf" stroke="#b52a40" stroke-width="1.35"/>
<circle cx="737.23" cy="513.66" r="1.5" fill="#f4c9cf" stroke="#b52a40" stroke-width="1.35"/>
<circle cx="740.12" cy="514.32" r="1.5" fill="#f4c9cf" stroke="#b52a40" stroke-width="1.35"/>
<circle cx="743.1" cy="512.83" r="1.5" fill="#f4c9cf" stroke="#b52a40" stroke-width="1.35"/>
<circle cx="745.91" cy="513.66" r="1.5" fill="#f4c9cf" stroke="#b52a40" stroke-width="1.35"/>
<circle cx="748.52" cy="511.17" r="1.5" fill="#f4c9cf" stroke="#b52a40" stroke-width="1.35"/>
<circle cx="750.27" cy="506.19" r="1.5" fill="#f4c9cf" stroke="#b52a40" stroke-width="1.35"/>
<circle cx="753.28" cy="505.53" r="1.5" fill="#f4c9cf" stroke="#b52a40" stroke-width="1.35"/>
<circle cx="756.29" cy="505.03" r="1.5" fill="#f4c9cf" stroke="#b52a40" stroke-width="1.35"/>
<circle cx="758.79" cy="503.54" r="1.5" fill="#f4c9cf" stroke="#b52a40" stroke-width="1.35"/>
<circle cx="761.18" cy="501.54" r="1.5" fill="#f4c9cf" stroke="#b52a40" stroke-width="1.35"/>
<circle cx="762.98" cy="500.22" r="1.5" fill="#f4c9cf" stroke="#b52a40" stroke-width="1.35"/>
<circle cx="765.31" cy="501.21" r="1.5" fill="#f4c9cf" stroke="#b52a40" stroke-width="1.35"/>
<circle cx="767.74" cy="503.2" r="1.5" fill="#f4c9cf" stroke="#b52a40" stroke-width="1.35"/>
<circle cx="770.13" cy="504.7" r="1.5" fill="#f4c9cf" stroke="#b52a40" stroke-width="1.35"/>
<circle cx="772.53" cy="506.19" r="1.5" fill="#f4c9cf" stroke="#b52a40" stroke-width="1.35"/>
<circle cx="775.52" cy="507.35" r="1.5" fill="#f4c9cf" stroke="#b52a40" stroke-width="1.35"/>
<circle cx="777.92" cy="511" r="1.5" fill="#f4c9cf" stroke="#b52a40" stroke-width="1.35"/>
<circle cx="780.33" cy="515.15" r="1.5" fill="#f4c9cf" stroke="#b52a40" stroke-width="1.35"/>
<circle cx="781.92" cy="515.31" r="1.5" fill="#f4c9cf" stroke="#b52a40" stroke-width="1.35"/>
<circle cx="783.51" cy="515.48" r="1.5" fill="#f4c9cf" stroke="#b52a40" stroke-width="1.35"/>
<circle cx="786.2" cy="556.96" r="1.5" fill="#f4c9cf" stroke="#b52a40" stroke-width="1.35"/>
<circle cx="788.6" cy="577.53" r="1.5" fill="#f4c9cf" stroke="#b52a40" stroke-width="1.35"/>
<circle cx="790.91" cy="602.74" r="1.5" fill="#f4c9cf" stroke="#b52a40" stroke-width="1.35"/>
<circle cx="793.72" cy="610.38" r="1.5" fill="#f4c9cf" stroke="#b52a40" stroke-width="1.35"/>
<circle cx="796.02" cy="633.77" r="1.5" fill="#f4c9cf" stroke="#b52a40" stroke-width="1.35"/>
<circle cx="798.73" cy="640.57" r="1.5" fill="#f4c9cf" stroke="#b52a40" stroke-width="1.35"/>
<circle cx="801.04" cy="648.53" r="1.5" fill="#f4c9cf" stroke="#b52a40" stroke-width="1.35"/>
<circle cx="804.05" cy="651.85" r="1.5" fill="#f4c9cf" stroke="#b52a40" stroke-width="1.35"/>
<circle cx="807.05" cy="653.68" r="1.5" fill="#f4c9cf" stroke="#b52a40" stroke-width="1.35"/>
<circle cx="808.63" cy="654.17" r="1.5" fill="#f4c9cf" stroke="#b52a40" stroke-width="1.35"/>
<circle cx="612.39" cy="649.2" r="1.5" fill="#bcd8ef" stroke="#2f6596" stroke-width="1.35"/>
<circle cx="614.89" cy="629.62" r="1.5" fill="#bcd8ef" stroke="#2f6596" stroke-width="1.35"/>
<circle cx="617.15" cy="532.4" r="1.5" fill="#bcd8ef" stroke="#2f6596" stroke-width="1.35"/>
<circle cx="619.15" cy="524.11" r="1.5" fill="#bcd8ef" stroke="#2f6596" stroke-width="1.35"/>
<circle cx="621.16" cy="522.45" r="1.5" fill="#bcd8ef" stroke="#2f6596" stroke-width="1.35"/>
<circle cx="622.79" cy="520.79" r="1.5" fill="#bcd8ef" stroke="#2f6596" stroke-width="1.35"/>
<circle cx="624.8" cy="518.8" r="1.5" fill="#bcd8ef" stroke="#2f6596" stroke-width="1.35"/>
<circle cx="626.5" cy="517.14" r="1.5" fill="#bcd8ef" stroke="#2f6596" stroke-width="1.35"/>
<circle cx="627.8" cy="516.14" r="1.5" fill="#bcd8ef" stroke="#2f6596" stroke-width="1.35"/>
<circle cx="629.43" cy="520.13" r="1.5" fill="#bcd8ef" stroke="#2f6596" stroke-width="1.35"/>
<circle cx="631.94" cy="523.11" r="1.5" fill="#bcd8ef" stroke="#2f6596" stroke-width="1.35"/>
<circle cx="634.95" cy="524.11" r="1.5" fill="#bcd8ef" stroke="#2f6596" stroke-width="1.35"/>
<circle cx="637.21" cy="520.13" r="1.5" fill="#bcd8ef" stroke="#2f6596" stroke-width="1.35"/>
<circle cx="639.46" cy="513.82" r="1.5" fill="#bcd8ef" stroke="#2f6596" stroke-width="1.35"/>
<circle cx="641.89" cy="514.82" r="1.5" fill="#bcd8ef" stroke="#2f6596" stroke-width="1.35"/>
<circle cx="644.48" cy="513.16" r="1.5" fill="#bcd8ef" stroke="#2f6596" stroke-width="1.35"/>
<circle cx="647.23" cy="514.49" r="1.5" fill="#bcd8ef" stroke="#2f6596" stroke-width="1.35"/>
<circle cx="649.74" cy="515.15" r="1.5" fill="#bcd8ef" stroke="#2f6596" stroke-width="1.35"/>
<circle cx="652.4" cy="515.15" r="1.5" fill="#bcd8ef" stroke="#2f6596" stroke-width="1.35"/>
<circle cx="654.75" cy="513.49" r="1.5" fill="#bcd8ef" stroke="#2f6596" stroke-width="1.35"/>
<circle cx="657.01" cy="510.01" r="1.5" fill="#bcd8ef" stroke="#2f6596" stroke-width="1.35"/>
<circle cx="659.77" cy="511.33" r="1.5" fill="#bcd8ef" stroke="#2f6596" stroke-width="1.35"/>
<circle cx="662.28" cy="510.17" r="1.5" fill="#bcd8ef" stroke="#2f6596" stroke-width="1.35"/>
<circle cx="665.03" cy="507.85" r="1.5" fill="#bcd8ef" stroke="#2f6596" stroke-width="1.35"/>
<circle cx="667.54" cy="505.53" r="1.5" fill="#bcd8ef" stroke="#2f6596" stroke-width="1.35"/>
<circle cx="669.8" cy="507.52" r="1.5" fill="#bcd8ef" stroke="#2f6596" stroke-width="1.35"/>
<circle cx="672.8" cy="506.02" r="1.5" fill="#bcd8ef" stroke="#2f6596" stroke-width="1.35"/>
<circle cx="675.56" cy="507.85" r="1.5" fill="#bcd8ef" stroke="#2f6596" stroke-width="1.35"/>
<circle cx="677.49" cy="511.66" r="1.5" fill="#bcd8ef" stroke="#2f6596" stroke-width="1.35"/>
<circle cx="680.07" cy="513.49" r="1.5" fill="#bcd8ef" stroke="#2f6596" stroke-width="1.35"/>
<circle cx="682.73" cy="515.15" r="1.5" fill="#bcd8ef" stroke="#2f6596" stroke-width="1.35"/>
<circle cx="685.34" cy="518.13" r="1.5" fill="#bcd8ef" stroke="#2f6596" stroke-width="1.35"/>
<circle cx="687.6" cy="522.12" r="1.5" fill="#bcd8ef" stroke="#2f6596" stroke-width="1.35"/>
<circle cx="690.35" cy="523.44" r="1.5" fill="#bcd8ef" stroke="#2f6596" stroke-width="1.35"/>
<circle cx="692.23" cy="525.93" r="1.5" fill="#bcd8ef" stroke="#2f6596" stroke-width="1.35"/>
<circle cx="694.62" cy="528.42" r="1.5" fill="#bcd8ef" stroke="#2f6596" stroke-width="1.35"/>
<circle cx="697.12" cy="530.74" r="1.5" fill="#bcd8ef" stroke="#2f6596" stroke-width="1.35"/>
<circle cx="699.88" cy="531.9" r="1.5" fill="#bcd8ef" stroke="#2f6596" stroke-width="1.35"/>
<circle cx="702.51" cy="533.73" r="1.5" fill="#bcd8ef" stroke="#2f6596" stroke-width="1.35"/>
<circle cx="705.14" cy="532.57" r="1.5" fill="#bcd8ef" stroke="#2f6596" stroke-width="1.35"/>
<circle cx="707.8" cy="535.89" r="1.5" fill="#bcd8ef" stroke="#2f6596" stroke-width="1.35"/>
<circle cx="710.41" cy="537.55" r="1.5" fill="#bcd8ef" stroke="#2f6596" stroke-width="1.35"/>
<circle cx="713.17" cy="550.98" r="1.5" fill="#bcd8ef" stroke="#2f6596" stroke-width="1.35"/>
<circle cx="715.4" cy="582.34" r="1.5" fill="#bcd8ef" stroke="#2f6596" stroke-width="1.35"/>
<circle cx="718.11" cy="620" r="1.5" fill="#bcd8ef" stroke="#2f6596" stroke-width="1.35"/>
<circle cx="720.29" cy="647.87" r="1.5" fill="#bcd8ef" stroke="#2f6596" stroke-width="1.35"/>
<circle cx="722.69" cy="652.35" r="1.5" fill="#bcd8ef" stroke="#2f6596" stroke-width="1.35"/>
<circle cx="725.2" cy="654.67" r="1.5" fill="#bcd8ef" stroke="#2f6596" stroke-width="1.35"/>
<circle cx="727.71" cy="654.67" r="1.5" fill="#bcd8ef" stroke="#2f6596" stroke-width="1.35"/>
<circle cx="730.21" cy="654.67" r="1.5" fill="#bcd8ef" stroke="#2f6596" stroke-width="1.35"/>
<circle cx="732.72" cy="654.67" r="1.5" fill="#bcd8ef" stroke="#2f6596" stroke-width="1.35"/>
<circle cx="735.23" cy="654.67" r="1.5" fill="#bcd8ef" stroke="#2f6596" stroke-width="1.35"/>
<circle cx="737.74" cy="654.67" r="1.5" fill="#bcd8ef" stroke="#2f6596" stroke-width="1.35"/>
<circle cx="740.24" cy="654.67" r="1.5" fill="#bcd8ef" stroke="#2f6596" stroke-width="1.35"/>
<circle cx="742.75" cy="654.67" r="1.5" fill="#bcd8ef" stroke="#2f6596" stroke-width="1.35"/>
<circle cx="745.26" cy="654.67" r="1.5" fill="#bcd8ef" stroke="#2f6596" stroke-width="1.35"/>
<circle cx="747.76" cy="654.67" r="1.5" fill="#bcd8ef" stroke="#2f6596" stroke-width="1.35"/>
<circle cx="750.27" cy="654.67" r="1.5" fill="#bcd8ef" stroke="#2f6596" stroke-width="1.35"/>
<circle cx="752.78" cy="654.67" r="1.5" fill="#bcd8ef" stroke="#2f6596" stroke-width="1.35"/>
<circle cx="755.28" cy="654.67" r="1.5" fill="#bcd8ef" stroke="#2f6596" stroke-width="1.35"/>
<circle cx="757.79" cy="653.68" r="1.5" fill="#bcd8ef" stroke="#2f6596" stroke-width="1.35"/>
<circle cx="760.3" cy="654.67" r="1.5" fill="#bcd8ef" stroke="#2f6596" stroke-width="1.35"/>
<circle cx="762.81" cy="654.67" r="1.5" fill="#bcd8ef" stroke="#2f6596" stroke-width="1.35"/>
<circle cx="765.31" cy="654.67" r="1.5" fill="#bcd8ef" stroke="#2f6596" stroke-width="1.35"/>
<circle cx="767.82" cy="654.67" r="1.5" fill="#bcd8ef" stroke="#2f6596" stroke-width="1.35"/>
<circle cx="770.33" cy="654.67" r="1.5" fill="#bcd8ef" stroke="#2f6596" stroke-width="1.35"/>
<circle cx="772.83" cy="654.67" r="1.5" fill="#bcd8ef" stroke="#2f6596" stroke-width="1.35"/>
<circle cx="775.34" cy="654.67" r="1.5" fill="#bcd8ef" stroke="#2f6596" stroke-width="1.35"/>
<circle cx="777.85" cy="654.67" r="1.5" fill="#bcd8ef" stroke="#2f6596" stroke-width="1.35"/>
<circle cx="780.36" cy="654.67" r="1.5" fill="#bcd8ef" stroke="#2f6596" stroke-width="1.35"/>
<circle cx="782.86" cy="654.67" r="1.5" fill="#bcd8ef" stroke="#2f6596" stroke-width="1.35"/>
<circle cx="785.37" cy="654.67" r="1.5" fill="#bcd8ef" stroke="#2f6596" stroke-width="1.35"/>
<circle cx="787.88" cy="654.67" r="1.5" fill="#bcd8ef" stroke="#2f6596" stroke-width="1.35"/>
<circle cx="790.38" cy="654.67" r="1.5" fill="#bcd8ef" stroke="#2f6596" stroke-width="1.35"/>
<circle cx="792.89" cy="654.67" r="1.5" fill="#bcd8ef" stroke="#2f6596" stroke-width="1.35"/>
<circle cx="795.4" cy="654.67" r="1.5" fill="#bcd8ef" stroke="#2f6596" stroke-width="1.35"/>
<circle cx="797.9" cy="654.67" r="1.5" fill="#bcd8ef" stroke="#2f6596" stroke-width="1.35"/>
<circle cx="800.41" cy="654.67" r="1.5" fill="#bcd8ef" stroke="#2f6596" stroke-width="1.35"/>
<circle cx="802.92" cy="654.67" r="1.5" fill="#bcd8ef" stroke="#2f6596" stroke-width="1.35"/>
<circle cx="805.42" cy="654.67" r="1.5" fill="#bcd8ef" stroke="#2f6596" stroke-width="1.35"/>
<circle cx="807.93" cy="654.67" r="1.5" fill="#bcd8ef" stroke="#2f6596" stroke-width="1.35"/></g>
<g fill="#141414" stroke="#141414" stroke-width="0.18"><text x="18.0" y="733.0" font-size="11.6" textLength="46.8" lengthAdjust="spacingAndGlyphs"><tspan font-weight="bold" font-style="italic">Figure 5.</tspan></text>
<text x="67.8" y="733.0" font-size="11.6" textLength="207.2" lengthAdjust="spacingAndGlyphs">a) <tspan font-style="italic">J-V</tspan> curves of the champion devices.</text>
<text x="278.0" y="733.0" font-size="11.6" textLength="188.6" lengthAdjust="spacingAndGlyphs">b) EQE spectra of the Sn–Pb PSCs.</text>
<text x="469.6" y="733.0" font-size="11.6" textLength="195.4" lengthAdjust="spacingAndGlyphs">c) The calculated transmission loss,</text>
<text x="668.0" y="733.0" font-size="11.6" textLength="141.5" lengthAdjust="spacingAndGlyphs"><tspan font-style="italic">V</tspan><tspan font-style="italic" font-size="9" dy="2.2">OC</tspan><tspan dy="-2.2"> loss, FF loss and total</tspan></text>
<text x="18.0" y="748.9" font-size="11.6" textLength="231.3" lengthAdjust="spacingAndGlyphs">conversion energy. d) Schematic of FF loss</text>
<text x="252.3" y="748.9" font-size="11.6" textLength="222.7" lengthAdjust="spacingAndGlyphs">mechanism with respect to the S–Q limit.</text>
<text x="478.0" y="748.9" font-size="11.6" textLength="282.6" lengthAdjust="spacingAndGlyphs">e) MPP of the encapsulated devices under AM 1.5 G</text>
<text x="18.0" y="764.7" font-size="11.6" textLength="152.5" lengthAdjust="spacingAndGlyphs">illumination in N<tspan font-size="9" dy="2.2">2</tspan><tspan dy="-2.2"> glovebox.</tspan></text>
<text x="173.5" y="764.7" font-size="11.6" textLength="215.1" lengthAdjust="spacingAndGlyphs">f) Illustration of the device structure and</text>
<text x="391.6" y="764.7" font-size="11.6" textLength="202.5" lengthAdjust="spacingAndGlyphs">g) <tspan font-style="italic">J–V</tspan> curves of the 2T all-perovskite</text>
<text x="597.1" y="764.7" font-size="11.6" textLength="101.1" lengthAdjust="spacingAndGlyphs">tandem solar cells.</text>
<text x="701.2" y="764.7" font-size="11.6" textLength="112.1" lengthAdjust="spacingAndGlyphs">h) EQE spectra of 2T</text>
<text x="18.0" y="780.9" font-size="11.6" textLength="175.7" lengthAdjust="spacingAndGlyphs">all-perovskite tandem solar cells.</text></g>
</svg>
</body></html>
